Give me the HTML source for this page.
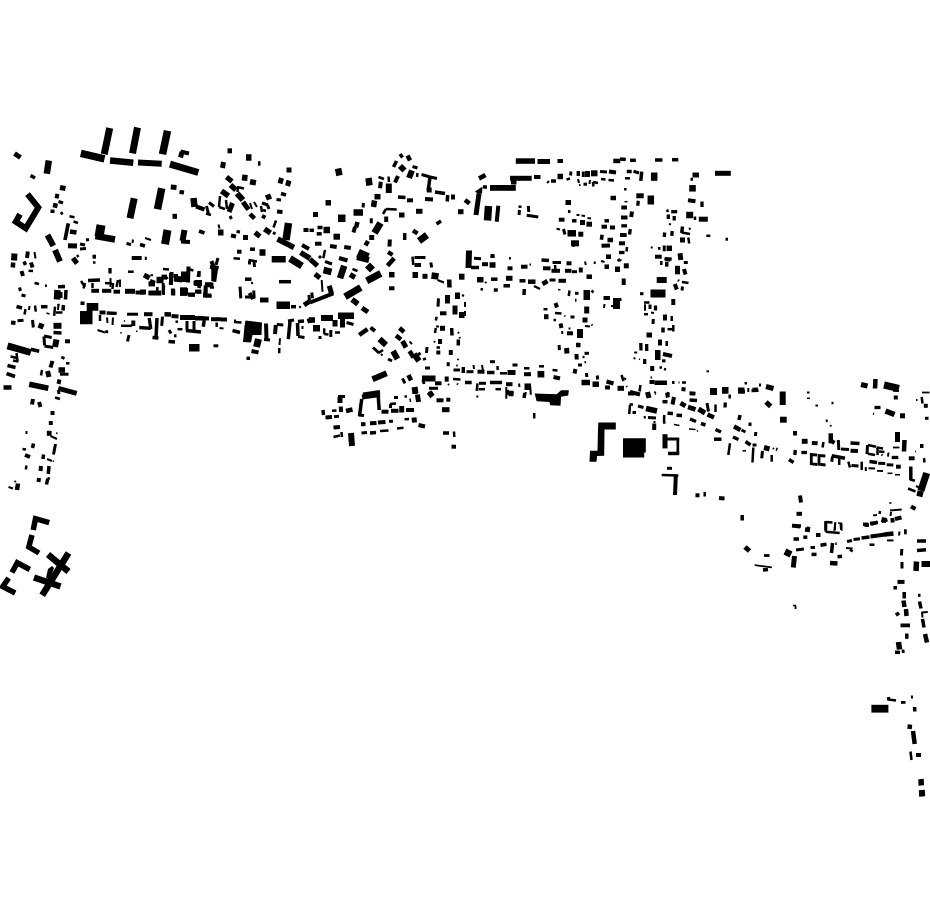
<!DOCTYPE html>
<html><head><meta charset="utf-8"><style>
html,body{margin:0;padding:0;background:#fff;width:930px;height:924px;overflow:hidden;font-family:"Liberation Sans",sans-serif;}
svg{display:block}
</style></head><body>
<svg width="930" height="924" viewBox="0 0 930 924">
<g fill="#000" stroke-linecap="butt">
<line x1="14.5" y1="153.5" x2="20.5" y2="157.5" stroke="#000" stroke-width="5"/>
<line x1="48.8" y1="160.5" x2="46.8" y2="173.7" stroke="#000" stroke-width="6.5"/>
<line x1="30.5" y1="175.5" x2="35" y2="178" stroke="#000" stroke-width="3.5"/>
<line x1="80.8" y1="153.3" x2="104.5" y2="158.8" stroke="#000" stroke-width="7.5"/>
<line x1="109.7" y1="128" x2="104.2" y2="154.2" stroke="#000" stroke-width="7"/>
<line x1="137.5" y1="127.5" x2="132.5" y2="153.3" stroke="#000" stroke-width="7"/>
<line x1="110" y1="160.5" x2="133.3" y2="162.8" stroke="#000" stroke-width="6.5"/>
<line x1="138" y1="162.5" x2="161.7" y2="163.7" stroke="#000" stroke-width="6"/>
<line x1="60" y1="187.5" x2="65.5" y2="188.5" stroke="#000" stroke-width="5"/>
<line x1="55" y1="195.8" x2="59" y2="196.5" stroke="#000" stroke-width="4.5"/>
<line x1="53" y1="205" x2="57.5" y2="206" stroke="#000" stroke-width="4.5"/>
<line x1="58.5" y1="201.5" x2="63" y2="203" stroke="#000" stroke-width="3"/>
<line x1="50.5" y1="211.3" x2="54.5" y2="211.3" stroke="#000" stroke-width="3.5"/>
<line x1="61" y1="212" x2="62.5" y2="214.5" stroke="#000" stroke-width="2.5"/>
<polyline points="27.5,194.2 38.3,207.5 25.8,228.3 15.8,221.7 20,214.2" stroke-width="6" fill="none" stroke="#000" stroke-linejoin="miter"/>
<line x1="69.5" y1="216.3" x2="74.5" y2="217.3" stroke="#000" stroke-width="2.5"/>
<line x1="73.5" y1="221.5" x2="78" y2="223" stroke="#000" stroke-width="2.5"/>
<line x1="68.3" y1="223.3" x2="65" y2="240" stroke="#000" stroke-width="3.7"/>
<line x1="70" y1="231.5" x2="76.5" y2="232.5" stroke="#000" stroke-width="4.5"/>
<line x1="101" y1="225" x2="99" y2="237" stroke="#000" stroke-width="9"/>
<line x1="95.5" y1="236" x2="115" y2="239.5" stroke="#000" stroke-width="6.5"/>
<line x1="134.2" y1="198.3" x2="130" y2="218.3" stroke="#000" stroke-width="7"/>
<line x1="47.5" y1="235" x2="53.3" y2="245.8" stroke="#000" stroke-width="6"/>
<line x1="68" y1="245.8" x2="77" y2="246" stroke="#000" stroke-width="5"/>
<line x1="80" y1="244" x2="85" y2="245" stroke="#000" stroke-width="3"/>
<line x1="80" y1="249" x2="86" y2="248.5" stroke="#000" stroke-width="3"/>
<line x1="86" y1="240" x2="89" y2="239.5" stroke="#000" stroke-width="3"/>
<line x1="126.5" y1="243.5" x2="131" y2="244.5" stroke="#000" stroke-width="3"/>
<line x1="133" y1="239.5" x2="132.5" y2="243" stroke="#000" stroke-width="2"/>
<line x1="140" y1="244.5" x2="145" y2="246" stroke="#000" stroke-width="3.5"/>
<line x1="145" y1="238" x2="151" y2="240" stroke="#000" stroke-width="2"/>
<line x1="167.5" y1="130.8" x2="162.5" y2="154.2" stroke="#000" stroke-width="7.5"/>
<line x1="180.5" y1="151.5" x2="189" y2="153.5" stroke="#000" stroke-width="4"/>
<line x1="182" y1="152" x2="180.5" y2="157.5" stroke="#000" stroke-width="5"/>
<line x1="170" y1="164.2" x2="198.3" y2="172.5" stroke="#000" stroke-width="7"/>
<line x1="170.8" y1="187" x2="176.5" y2="187.5" stroke="#000" stroke-width="5"/>
<line x1="179.5" y1="192" x2="184" y2="192.5" stroke="#000" stroke-width="4"/>
<line x1="161.7" y1="188.3" x2="157.5" y2="209.2" stroke="#000" stroke-width="7.5"/>
<line x1="193.5" y1="198" x2="194.5" y2="207" stroke="#000" stroke-width="6.5"/>
<line x1="196" y1="206.5" x2="204.5" y2="209.5" stroke="#000" stroke-width="4"/>
<line x1="209" y1="202.5" x2="214" y2="206.5" stroke="#000" stroke-width="3"/>
<line x1="206.5" y1="206" x2="208.5" y2="214" stroke="#000" stroke-width="3"/>
<line x1="206" y1="213.5" x2="211" y2="215" stroke="#000" stroke-width="2.5"/>
<line x1="172.5" y1="216.3" x2="177" y2="216.3" stroke="#000" stroke-width="5"/>
<line x1="167.5" y1="230" x2="165" y2="244.2" stroke="#000" stroke-width="8"/>
<line x1="184.5" y1="230" x2="182.5" y2="241" stroke="#000" stroke-width="6"/>
<line x1="181" y1="241.5" x2="190" y2="242" stroke="#000" stroke-width="4"/>
<line x1="199" y1="231" x2="204.5" y2="233" stroke="#000" stroke-width="3.5"/>
<line x1="227.5" y1="150.8" x2="232" y2="150.8" stroke="#000" stroke-width="5"/>
<line x1="246" y1="157.5" x2="251.5" y2="157.5" stroke="#000" stroke-width="6.5"/>
<line x1="258" y1="163.5" x2="260.5" y2="163.5" stroke="#000" stroke-width="4.5"/>
<line x1="223.5" y1="162" x2="222.5" y2="168" stroke="#000" stroke-width="5"/>
<line x1="226.5" y1="177" x2="232" y2="181.5" stroke="#000" stroke-width="5"/>
<line x1="230.5" y1="185" x2="236" y2="190" stroke="#000" stroke-width="5.5"/>
<line x1="237" y1="193.5" x2="243" y2="200" stroke="#000" stroke-width="6"/>
<line x1="243" y1="202" x2="248.5" y2="209.5" stroke="#000" stroke-width="5"/>
<line x1="250" y1="214" x2="254.5" y2="218.5" stroke="#000" stroke-width="4.5"/>
<line x1="242" y1="177.5" x2="247.5" y2="178" stroke="#000" stroke-width="6"/>
<line x1="253.5" y1="179.5" x2="252.5" y2="185" stroke="#000" stroke-width="6"/>
<line x1="237" y1="187" x2="244" y2="188.5" stroke="#000" stroke-width="2.5"/>
<line x1="238" y1="187" x2="237.5" y2="192" stroke="#000" stroke-width="2.5"/>
<line x1="221.5" y1="191" x2="228.5" y2="196" stroke="#000" stroke-width="5.5"/>
<line x1="220" y1="196" x2="219" y2="207" stroke="#000" stroke-width="2.5"/>
<line x1="219" y1="207" x2="225" y2="209" stroke="#000" stroke-width="2.5"/>
<line x1="232.5" y1="203" x2="229" y2="212" stroke="#000" stroke-width="5"/>
<line x1="226" y1="200" x2="227" y2="209" stroke="#000" stroke-width="2.5"/>
<line x1="230" y1="216" x2="231.5" y2="219" stroke="#000" stroke-width="3"/>
<line x1="250" y1="203" x2="252" y2="209" stroke="#000" stroke-width="2"/>
<line x1="254" y1="202" x2="257" y2="207" stroke="#000" stroke-width="2"/>
<line x1="262" y1="203" x2="268" y2="205" stroke="#000" stroke-width="3"/>
<line x1="261" y1="206" x2="262" y2="212" stroke="#000" stroke-width="2.5"/>
<line x1="263" y1="210" x2="266" y2="211" stroke="#000" stroke-width="2.5"/>
<line x1="267.5" y1="205" x2="269" y2="209" stroke="#000" stroke-width="3"/>
<line x1="262" y1="216" x2="265.5" y2="217.5" stroke="#000" stroke-width="4"/>
<line x1="267.5" y1="194.5" x2="269.5" y2="199.5" stroke="#000" stroke-width="5.5"/>
<line x1="286.5" y1="170" x2="291.5" y2="170" stroke="#000" stroke-width="5"/>
<line x1="281.5" y1="178" x2="280" y2="183.5" stroke="#000" stroke-width="5"/>
<line x1="289" y1="180.5" x2="287.5" y2="186" stroke="#000" stroke-width="5"/>
<line x1="281" y1="193.5" x2="286" y2="195" stroke="#000" stroke-width="3.5"/>
<line x1="276.5" y1="199.5" x2="281" y2="200" stroke="#000" stroke-width="3"/>
<line x1="277" y1="211.5" x2="282.5" y2="212" stroke="#000" stroke-width="4"/>
<line x1="288.5" y1="223" x2="286" y2="240" stroke="#000" stroke-width="7.5"/>
<line x1="277.5" y1="239" x2="294" y2="247.5" stroke="#000" stroke-width="5.5"/>
<line x1="276" y1="220.5" x2="273.5" y2="227.5" stroke="#000" stroke-width="2.5"/>
<line x1="273" y1="232.5" x2="275.5" y2="234" stroke="#000" stroke-width="3"/>
<line x1="264.5" y1="229" x2="270.5" y2="233" stroke="#000" stroke-width="5.5"/>
<line x1="255" y1="232.5" x2="260" y2="236.5" stroke="#000" stroke-width="5"/>
<line x1="218" y1="232.5" x2="223.5" y2="232.5" stroke="#000" stroke-width="6"/>
<line x1="218.5" y1="224.5" x2="219.5" y2="228.5" stroke="#000" stroke-width="2"/>
<line x1="231" y1="235.5" x2="236" y2="236.5" stroke="#000" stroke-width="4"/>
<line x1="236.5" y1="231.5" x2="240" y2="232" stroke="#000" stroke-width="3"/>
<line x1="243" y1="237.5" x2="248" y2="237.5" stroke="#000" stroke-width="5"/>
<line x1="303.5" y1="230" x2="308.5" y2="230" stroke="#000" stroke-width="4"/>
<line x1="302" y1="245" x2="309" y2="249" stroke="#000" stroke-width="4"/>
<line x1="300.5" y1="252.5" x2="310" y2="258.3" stroke="#000" stroke-width="5.5"/>
<line x1="237" y1="251.7" x2="241.5" y2="251.7" stroke="#000" stroke-width="4"/>
<line x1="250" y1="249.2" x2="255" y2="249.2" stroke="#000" stroke-width="3.5"/>
<line x1="259.5" y1="252.5" x2="265.5" y2="252.5" stroke="#000" stroke-width="6.5"/>
<rect x="271.7" y="256" width="14" height="6.5"/>
<line x1="338" y1="168.5" x2="339.5" y2="175.5" stroke="#000" stroke-width="6.5"/>
<line x1="400" y1="154" x2="402.5" y2="157.5" stroke="#000" stroke-width="3.5"/>
<line x1="407.5" y1="155.5" x2="410" y2="160.5" stroke="#000" stroke-width="4.5"/>
<line x1="396.5" y1="161" x2="393.5" y2="167" stroke="#000" stroke-width="3.5"/>
<line x1="400" y1="166" x2="404.5" y2="170.5" stroke="#000" stroke-width="6"/>
<line x1="412.5" y1="166.5" x2="417.5" y2="168" stroke="#000" stroke-width="3"/>
<line x1="412" y1="170.5" x2="409" y2="178" stroke="#000" stroke-width="6"/>
<line x1="417.5" y1="173" x2="417" y2="177" stroke="#000" stroke-width="2.5"/>
<line x1="421.5" y1="174.5" x2="428.5" y2="176.5" stroke="#000" stroke-width="3"/>
<line x1="428" y1="176.5" x2="437" y2="178.5" stroke="#000" stroke-width="3"/>
<line x1="430" y1="176.7" x2="428.3" y2="190" stroke="#000" stroke-width="3.5"/>
<line x1="426.7" y1="190" x2="431.7" y2="190" stroke="#000" stroke-width="5"/>
<line x1="435" y1="192" x2="445" y2="193.5" stroke="#000" stroke-width="3.5"/>
<line x1="447.7" y1="195" x2="447.2" y2="201.5" stroke="#000" stroke-width="3.5"/>
<line x1="451" y1="197" x2="455" y2="197" stroke="#000" stroke-width="5"/>
<line x1="425" y1="199" x2="433" y2="199.5" stroke="#000" stroke-width="4"/>
<line x1="398" y1="197" x2="405.5" y2="197.5" stroke="#000" stroke-width="3.5"/>
<line x1="407" y1="200.3" x2="413" y2="200.3" stroke="#000" stroke-width="4"/>
<line x1="416" y1="211.3" x2="422.5" y2="211.3" stroke="#000" stroke-width="5"/>
<line x1="458" y1="211.7" x2="463.5" y2="211.7" stroke="#000" stroke-width="5"/>
<line x1="368.5" y1="178" x2="369.5" y2="185.5" stroke="#000" stroke-width="6.5"/>
<line x1="378.5" y1="177" x2="384" y2="179" stroke="#000" stroke-width="2.5"/>
<line x1="380.8" y1="181.7" x2="380" y2="188.3" stroke="#000" stroke-width="4"/>
<line x1="388.5" y1="176.5" x2="389" y2="182" stroke="#000" stroke-width="2.5"/>
<line x1="388.8" y1="183.5" x2="388.8" y2="193" stroke="#000" stroke-width="6"/>
<line x1="398" y1="176" x2="395" y2="182.5" stroke="#000" stroke-width="4"/>
<line x1="374.5" y1="196.7" x2="380.5" y2="196.7" stroke="#000" stroke-width="5.5"/>
<line x1="374.5" y1="200.5" x2="373.5" y2="207" stroke="#000" stroke-width="5.5"/>
<line x1="325.5" y1="202.8" x2="331" y2="202.8" stroke="#000" stroke-width="5.5"/>
<line x1="363.5" y1="203" x2="363" y2="207.5" stroke="#000" stroke-width="3"/>
<line x1="353.5" y1="212.5" x2="363" y2="212.5" stroke="#000" stroke-width="6.5"/>
<line x1="313" y1="214.5" x2="318" y2="214.5" stroke="#000" stroke-width="5"/>
<line x1="338" y1="218.3" x2="345.5" y2="218.3" stroke="#000" stroke-width="7.5"/>
<line x1="386" y1="209" x2="396.7" y2="209.5" stroke="#000" stroke-width="2.5"/>
<line x1="386" y1="209" x2="383" y2="214" stroke="#000" stroke-width="2.5"/>
<line x1="399" y1="215" x2="404.5" y2="215" stroke="#000" stroke-width="5"/>
<line x1="386.2" y1="216.5" x2="386.2" y2="222" stroke="#000" stroke-width="4"/>
<line x1="371.3" y1="218.3" x2="371.3" y2="223.3" stroke="#000" stroke-width="3"/>
<line x1="357.5" y1="222" x2="356" y2="227.5" stroke="#000" stroke-width="4.5"/>
<line x1="355" y1="227" x2="353.5" y2="232.5" stroke="#000" stroke-width="4"/>
<line x1="380.5" y1="223" x2="374.5" y2="233" stroke="#000" stroke-width="7"/>
<line x1="369.2" y1="237.5" x2="374.2" y2="237.5" stroke="#000" stroke-width="5"/>
<line x1="368" y1="241" x2="365.5" y2="245.5" stroke="#000" stroke-width="4.5"/>
<line x1="358" y1="253" x2="368" y2="257.5" stroke="#000" stroke-width="9"/>
<line x1="404.7" y1="233" x2="404.7" y2="240" stroke="#000" stroke-width="3.5"/>
<line x1="413" y1="230.5" x2="417.5" y2="233.5" stroke="#000" stroke-width="4.5"/>
<line x1="419" y1="241" x2="427" y2="235" stroke="#000" stroke-width="7"/>
<line x1="436.5" y1="224" x2="441" y2="221" stroke="#000" stroke-width="3.5"/>
<line x1="389.8" y1="239.5" x2="389.5" y2="246.5" stroke="#000" stroke-width="4"/>
<line x1="388" y1="252" x2="392.5" y2="255" stroke="#000" stroke-width="4"/>
<line x1="309.5" y1="230.3" x2="314" y2="230.3" stroke="#000" stroke-width="3.5"/>
<line x1="317.5" y1="227.5" x2="322.5" y2="227.5" stroke="#000" stroke-width="3.5"/>
<line x1="316.7" y1="233.8" x2="321.7" y2="233.8" stroke="#000" stroke-width="3.5"/>
<line x1="323.5" y1="230" x2="330" y2="230" stroke="#000" stroke-width="6.5"/>
<line x1="333.5" y1="236.7" x2="340" y2="236.7" stroke="#000" stroke-width="6"/>
<line x1="315" y1="243.7" x2="321.5" y2="243.7" stroke="#000" stroke-width="4"/>
<line x1="330" y1="246" x2="336.7" y2="247" stroke="#000" stroke-width="4"/>
<line x1="344.2" y1="247" x2="350.8" y2="248" stroke="#000" stroke-width="4"/>
<line x1="325" y1="250" x2="323.3" y2="258.3" stroke="#000" stroke-width="2.5"/>
<rect x="515.8" y="158.3" width="19.2" height="5.5"/>
<rect x="537.5" y="159" width="12.5" height="5"/>
<rect x="557.5" y="159" width="5.5" height="4"/>
<rect x="613.3" y="158.7" width="7" height="4.5"/>
<line x1="479" y1="178.5" x2="485.5" y2="175" stroke="#000" stroke-width="4.5"/>
<rect x="510" y="175.8" width="21.7" height="5"/>
<rect x="511" y="180" width="5.5" height="4.5"/>
<rect x="490" y="185" width="25.8" height="5.8"/>
<rect x="534" y="175" width="6.5" height="4"/>
<polygon points="475,191.5 482.5,186.5 482,193.5 478,194"/>
<line x1="479" y1="193.5" x2="476" y2="215" stroke="#000" stroke-width="5"/>
<line x1="465" y1="200" x2="469.5" y2="203.5" stroke="#000" stroke-width="4.5"/>
<line x1="488.5" y1="206" x2="487.5" y2="220.5" stroke="#000" stroke-width="7.5"/>
<line x1="498.3" y1="205.8" x2="496.7" y2="221.7" stroke="#000" stroke-width="4"/>
<line x1="518.5" y1="206.7" x2="521.5" y2="206.7" stroke="#000" stroke-width="2.5"/>
<line x1="519.5" y1="210" x2="519" y2="215" stroke="#000" stroke-width="3"/>
<line x1="528.3" y1="205.8" x2="528.8" y2="212" stroke="#000" stroke-width="3"/>
<line x1="526.7" y1="215.2" x2="538.3" y2="217" stroke="#000" stroke-width="3"/>
<line x1="483" y1="187" x2="487" y2="187" stroke="#000" stroke-width="3.5"/>
<line x1="547" y1="183" x2="549" y2="181" stroke="#000" stroke-width="2"/>
<line x1="551" y1="181" x2="556" y2="181" stroke="#000" stroke-width="3.5"/>
<line x1="557.5" y1="176.5" x2="563" y2="176.5" stroke="#000" stroke-width="5.5"/>
<line x1="566.5" y1="179.5" x2="570" y2="178.5" stroke="#000" stroke-width="2.5"/>
<line x1="571" y1="171.5" x2="570.5" y2="175.5" stroke="#000" stroke-width="3"/>
<line x1="578.3" y1="171" x2="578.3" y2="176" stroke="#000" stroke-width="3.5"/>
<line x1="583.3" y1="171.5" x2="583.3" y2="177" stroke="#000" stroke-width="3"/>
<line x1="587.5" y1="171" x2="587.5" y2="177" stroke="#000" stroke-width="5"/>
<line x1="591" y1="173.3" x2="597.5" y2="173.3" stroke="#000" stroke-width="6"/>
<line x1="600" y1="171.5" x2="607" y2="172" stroke="#000" stroke-width="3"/>
<line x1="609" y1="171.5" x2="616" y2="172.5" stroke="#000" stroke-width="4"/>
<line x1="601" y1="179" x2="605.5" y2="179.5" stroke="#000" stroke-width="2.5"/>
<line x1="608.5" y1="180" x2="614" y2="180.5" stroke="#000" stroke-width="2.5"/>
<line x1="578" y1="179" x2="579" y2="183" stroke="#000" stroke-width="2"/>
<line x1="579.5" y1="184" x2="580" y2="186" stroke="#000" stroke-width="1.5"/>
<line x1="583.5" y1="184.2" x2="587" y2="184.2" stroke="#000" stroke-width="3"/>
<line x1="590" y1="180" x2="589.5" y2="184" stroke="#000" stroke-width="2"/>
<line x1="593" y1="182" x2="598" y2="183" stroke="#000" stroke-width="2.5"/>
<line x1="593" y1="182" x2="593.5" y2="186.5" stroke="#000" stroke-width="2.5"/>
<line x1="610.5" y1="198" x2="616" y2="198" stroke="#000" stroke-width="4.5"/>
<line x1="565.5" y1="202.5" x2="571" y2="202.5" stroke="#000" stroke-width="5"/>
<line x1="569.2" y1="210" x2="569.2" y2="213" stroke="#000" stroke-width="2.5"/>
<line x1="558.8" y1="219.7" x2="564.5" y2="219.7" stroke="#000" stroke-width="4"/>
<line x1="572" y1="220.8" x2="576.5" y2="220.8" stroke="#000" stroke-width="3.5"/>
<line x1="580" y1="222.5" x2="585" y2="222.5" stroke="#000" stroke-width="5"/>
<line x1="586.5" y1="224.2" x2="592" y2="224.2" stroke="#000" stroke-width="5"/>
<line x1="576.5" y1="215" x2="579.5" y2="215" stroke="#000" stroke-width="2"/>
<line x1="581.5" y1="215.5" x2="585" y2="216" stroke="#000" stroke-width="2"/>
<line x1="587.5" y1="218" x2="591" y2="218.5" stroke="#000" stroke-width="2"/>
<line x1="604.5" y1="220.8" x2="609" y2="220.8" stroke="#000" stroke-width="3.5"/>
<line x1="601.5" y1="226.7" x2="607" y2="226.7" stroke="#000" stroke-width="4"/>
<line x1="610" y1="227.5" x2="615" y2="227.5" stroke="#000" stroke-width="4"/>
<line x1="556.5" y1="228.8" x2="560" y2="229.5" stroke="#000" stroke-width="2"/>
<line x1="563.5" y1="229" x2="565" y2="234.5" stroke="#000" stroke-width="3"/>
<line x1="567.5" y1="233.3" x2="576" y2="233.3" stroke="#000" stroke-width="6.5"/>
<line x1="578.3" y1="234.2" x2="583.3" y2="234.2" stroke="#000" stroke-width="5"/>
<line x1="571" y1="243.3" x2="579" y2="243.3" stroke="#000" stroke-width="6"/>
<line x1="573.5" y1="245" x2="573.5" y2="247" stroke="#000" stroke-width="2"/>
<line x1="600" y1="237" x2="603.5" y2="237.5" stroke="#000" stroke-width="5"/>
<line x1="607.5" y1="240" x2="613" y2="240" stroke="#000" stroke-width="4.5"/>
<line x1="601.5" y1="245.8" x2="610" y2="245.5" stroke="#000" stroke-width="4"/>
<line x1="469" y1="250.5" x2="468.5" y2="268" stroke="#000" stroke-width="6"/>
<line x1="490.5" y1="255.8" x2="494.5" y2="255.8" stroke="#000" stroke-width="3.5"/>
<line x1="606" y1="256.7" x2="611" y2="256.7" stroke="#000" stroke-width="4.5"/>
<line x1="620" y1="159" x2="625.8" y2="159.5" stroke="#000" stroke-width="3.5"/>
<line x1="630" y1="160.3" x2="635.8" y2="160.3" stroke="#000" stroke-width="3.5"/>
<line x1="655" y1="160" x2="662.5" y2="160" stroke="#000" stroke-width="3.5"/>
<line x1="672" y1="159.7" x2="678.3" y2="159.7" stroke="#000" stroke-width="3.5"/>
<rect x="715" y="170.8" width="15.8" height="5"/>
<line x1="626.7" y1="171.5" x2="631.7" y2="171.5" stroke="#000" stroke-width="3.5"/>
<line x1="633.5" y1="171.2" x2="639" y2="173" stroke="#000" stroke-width="3"/>
<line x1="641.7" y1="171.7" x2="640.8" y2="180.8" stroke="#000" stroke-width="3.5"/>
<line x1="654.2" y1="172.5" x2="654.2" y2="180.8" stroke="#000" stroke-width="6.5"/>
<line x1="625" y1="178.3" x2="630" y2="178.3" stroke="#000" stroke-width="2.5"/>
<line x1="625.3" y1="188" x2="625.3" y2="190.5" stroke="#000" stroke-width="2.5"/>
<line x1="636.3" y1="195.8" x2="643.7" y2="195.8" stroke="#000" stroke-width="5"/>
<line x1="638.3" y1="200.8" x2="637.7" y2="205.8" stroke="#000" stroke-width="3.3"/>
<line x1="650.8" y1="195.5" x2="650.8" y2="204.5" stroke="#000" stroke-width="6.5"/>
<line x1="624.5" y1="201.7" x2="627.5" y2="201.7" stroke="#000" stroke-width="1.5"/>
<line x1="621.3" y1="207.5" x2="627" y2="207.5" stroke="#000" stroke-width="4"/>
<line x1="632" y1="211.5" x2="631.2" y2="217" stroke="#000" stroke-width="4"/>
<line x1="621" y1="217.5" x2="627.5" y2="217.5" stroke="#000" stroke-width="4"/>
<line x1="621.3" y1="225.8" x2="627" y2="225.8" stroke="#000" stroke-width="3.3"/>
<line x1="630.3" y1="229" x2="629.5" y2="234.5" stroke="#000" stroke-width="3.3"/>
<line x1="620" y1="235" x2="626.7" y2="235" stroke="#000" stroke-width="4"/>
<line x1="619" y1="243.3" x2="625" y2="243.3" stroke="#000" stroke-width="4"/>
<line x1="627" y1="247" x2="626.5" y2="251.5" stroke="#000" stroke-width="2.5"/>
<line x1="619" y1="252.5" x2="624.5" y2="252.5" stroke="#000" stroke-width="3.3"/>
<line x1="692.5" y1="175" x2="699" y2="175" stroke="#000" stroke-width="5"/>
<line x1="690.5" y1="179.2" x2="693" y2="179.2" stroke="#000" stroke-width="3"/>
<line x1="689.2" y1="188.3" x2="695.8" y2="188.3" stroke="#000" stroke-width="6.5"/>
<line x1="688" y1="200.3" x2="695.5" y2="201.3" stroke="#000" stroke-width="4"/>
<line x1="702" y1="201.5" x2="702" y2="207" stroke="#000" stroke-width="3.3"/>
<line x1="686.2" y1="215" x2="693.2" y2="215" stroke="#000" stroke-width="6.5"/>
<line x1="695" y1="216.5" x2="695" y2="220" stroke="#000" stroke-width="2.5"/>
<line x1="698.8" y1="219.2" x2="707.8" y2="219.2" stroke="#000" stroke-width="5"/>
<line x1="667" y1="209.5" x2="668" y2="212" stroke="#000" stroke-width="2.5"/>
<line x1="671.2" y1="211.7" x2="677.2" y2="211.7" stroke="#000" stroke-width="3.3"/>
<line x1="668.3" y1="214.5" x2="668.3" y2="219" stroke="#000" stroke-width="3.3"/>
<line x1="674.2" y1="216" x2="674.2" y2="220.5" stroke="#000" stroke-width="3.3"/>
<line x1="669" y1="224" x2="671" y2="224.5" stroke="#000" stroke-width="2"/>
<line x1="682.5" y1="226.5" x2="681.7" y2="233" stroke="#000" stroke-width="3.5"/>
<line x1="681.7" y1="232.5" x2="690" y2="234" stroke="#000" stroke-width="2.5"/>
<line x1="689" y1="228" x2="690.5" y2="229.5" stroke="#000" stroke-width="2"/>
<line x1="680" y1="240" x2="685" y2="240" stroke="#000" stroke-width="5"/>
<line x1="688.3" y1="237.5" x2="689.2" y2="243.5" stroke="#000" stroke-width="2.5"/>
<line x1="664.7" y1="232.5" x2="664.2" y2="237" stroke="#000" stroke-width="3.3"/>
<line x1="672.2" y1="231" x2="671.8" y2="235.8" stroke="#000" stroke-width="3.3"/>
<line x1="651.7" y1="246.5" x2="651.7" y2="248.5" stroke="#000" stroke-width="2"/>
<line x1="659.2" y1="247" x2="659.2" y2="249.8" stroke="#000" stroke-width="2.5"/>
<line x1="664.2" y1="245.5" x2="664.2" y2="251.3" stroke="#000" stroke-width="3"/>
<line x1="666.5" y1="248.3" x2="672" y2="248.3" stroke="#000" stroke-width="5.5"/>
<line x1="655" y1="256.7" x2="661.7" y2="256.7" stroke="#000" stroke-width="4"/>
<line x1="665" y1="259" x2="671.7" y2="259" stroke="#000" stroke-width="3.3"/>
<line x1="680" y1="253.3" x2="680.8" y2="260" stroke="#000" stroke-width="5"/>
<line x1="706.3" y1="235.8" x2="710.3" y2="235.8" stroke="#000" stroke-width="2.5"/>
<line x1="725.5" y1="239.2" x2="728" y2="239.2" stroke="#000" stroke-width="3"/>
<line x1="55" y1="250" x2="60" y2="261.5" stroke="#000" stroke-width="6"/>
<line x1="14.5" y1="253.5" x2="14" y2="260.5" stroke="#000" stroke-width="6"/>
<line x1="13.2" y1="262.5" x2="12.8" y2="267.5" stroke="#000" stroke-width="4.5"/>
<line x1="27.8" y1="251.5" x2="27" y2="258" stroke="#000" stroke-width="4"/>
<line x1="34.5" y1="252" x2="35.5" y2="258.5" stroke="#000" stroke-width="2"/>
<line x1="24" y1="261.5" x2="25.5" y2="265" stroke="#000" stroke-width="3.5"/>
<line x1="31" y1="262.5" x2="32.5" y2="267.5" stroke="#000" stroke-width="4"/>
<line x1="28.5" y1="270.8" x2="33" y2="271" stroke="#000" stroke-width="2.5"/>
<line x1="21.5" y1="271" x2="23" y2="276" stroke="#000" stroke-width="4"/>
<line x1="73" y1="258" x2="77" y2="263.5" stroke="#000" stroke-width="5"/>
<line x1="77" y1="255" x2="78.5" y2="257" stroke="#000" stroke-width="2.5"/>
<line x1="92.5" y1="256.7" x2="96" y2="256.7" stroke="#000" stroke-width="4"/>
<line x1="93" y1="262.5" x2="95.5" y2="262.5" stroke="#000" stroke-width="2.5"/>
<line x1="131.7" y1="258" x2="141.7" y2="258" stroke="#000" stroke-width="4"/>
<line x1="145.8" y1="256.7" x2="145.8" y2="260" stroke="#000" stroke-width="2"/>
<line x1="110" y1="268" x2="110" y2="273.5" stroke="#000" stroke-width="3.3"/>
<line x1="128" y1="271.7" x2="133.7" y2="271.7" stroke="#000" stroke-width="2.5"/>
<line x1="144" y1="275" x2="149.5" y2="278" stroke="#000" stroke-width="5"/>
<line x1="150" y1="281" x2="155" y2="283" stroke="#000" stroke-width="4.5"/>
<line x1="91.3" y1="290.8" x2="99" y2="290.8" stroke="#000" stroke-width="4"/>
<line x1="102" y1="290.8" x2="111.3" y2="290.8" stroke="#000" stroke-width="4"/>
<line x1="113.5" y1="291.7" x2="120" y2="291.7" stroke="#000" stroke-width="4"/>
<line x1="125" y1="291.3" x2="135" y2="291.3" stroke="#000" stroke-width="5"/>
<line x1="135.5" y1="292.5" x2="144.5" y2="292.5" stroke="#000" stroke-width="4"/>
<line x1="148.5" y1="293" x2="155" y2="293" stroke="#000" stroke-width="4"/>
<line x1="81" y1="281" x2="85" y2="287" stroke="#000" stroke-width="2.5"/>
<line x1="85" y1="283" x2="83.5" y2="288.5" stroke="#000" stroke-width="2.5"/>
<line x1="88" y1="280.5" x2="100" y2="280" stroke="#000" stroke-width="3.5"/>
<line x1="92.5" y1="283" x2="92.5" y2="288" stroke="#000" stroke-width="2.5"/>
<line x1="105" y1="283" x2="112" y2="283.5" stroke="#000" stroke-width="2.5"/>
<line x1="110.5" y1="278" x2="110.5" y2="287" stroke="#000" stroke-width="2"/>
<line x1="113" y1="283" x2="112.5" y2="289" stroke="#000" stroke-width="2.5"/>
<line x1="118" y1="280" x2="116.5" y2="287" stroke="#000" stroke-width="2.5"/>
<line x1="120" y1="279.5" x2="120" y2="287" stroke="#000" stroke-width="2"/>
<line x1="34.5" y1="283" x2="39" y2="284" stroke="#000" stroke-width="2.5"/>
<line x1="45" y1="285.8" x2="47" y2="285.8" stroke="#000" stroke-width="2.5"/>
<line x1="19.5" y1="287.5" x2="20.5" y2="291" stroke="#000" stroke-width="3"/>
<line x1="21.5" y1="295" x2="25.5" y2="296" stroke="#000" stroke-width="3"/>
<line x1="58" y1="286.7" x2="65" y2="286.5" stroke="#000" stroke-width="3.5"/>
<line x1="57.5" y1="290" x2="57" y2="299.5" stroke="#000" stroke-width="6.5"/>
<line x1="61" y1="292" x2="61" y2="298" stroke="#000" stroke-width="3"/>
<line x1="66" y1="290" x2="65.5" y2="299.5" stroke="#000" stroke-width="3.5"/>
<polygon points="86.7,303 98.3,303 98.3,310.8 92.5,310.8 92.5,324.2 80,324.2 80,311 86.7,311"/>
<rect x="80.5" y="301.5" width="4" height="3.5"/>
<line x1="99.5" y1="312.5" x2="105.5" y2="312.5" stroke="#000" stroke-width="4"/>
<line x1="106.7" y1="313" x2="116.7" y2="313.3" stroke="#000" stroke-width="3.3"/>
<line x1="100" y1="315" x2="100" y2="321" stroke="#000" stroke-width="2.5"/>
<line x1="107" y1="317.5" x2="107.5" y2="323" stroke="#000" stroke-width="2"/>
<line x1="113" y1="317.5" x2="112.5" y2="325" stroke="#000" stroke-width="2"/>
<line x1="127" y1="314.2" x2="138" y2="314.2" stroke="#000" stroke-width="3"/>
<line x1="144" y1="314.2" x2="152.5" y2="314.2" stroke="#000" stroke-width="4"/>
<line x1="149.2" y1="318" x2="150.8" y2="329" stroke="#000" stroke-width="3.3"/>
<line x1="139.2" y1="327.5" x2="150.8" y2="328.3" stroke="#000" stroke-width="3.3"/>
<line x1="133.3" y1="320.5" x2="133.3" y2="326" stroke="#000" stroke-width="4"/>
<line x1="121" y1="325.8" x2="132" y2="325.8" stroke="#000" stroke-width="2.5"/>
<line x1="124" y1="320.5" x2="125" y2="321.5" stroke="#000" stroke-width="1.5"/>
<line x1="136.5" y1="330.5" x2="137" y2="332" stroke="#000" stroke-width="1.5"/>
<line x1="97.5" y1="330" x2="105" y2="332.5" stroke="#000" stroke-width="2"/>
<line x1="106.7" y1="330.3" x2="106.7" y2="333.2" stroke="#000" stroke-width="3"/>
<line x1="129" y1="335" x2="127.5" y2="341.5" stroke="#000" stroke-width="3"/>
<line x1="120.8" y1="332" x2="121" y2="333.5" stroke="#000" stroke-width="1.5"/>
<line x1="152.5" y1="337.5" x2="158.5" y2="338" stroke="#000" stroke-width="3.5"/>
<line x1="157" y1="318" x2="156" y2="338" stroke="#000" stroke-width="3.5"/>
<line x1="16.5" y1="306.5" x2="22" y2="308" stroke="#000" stroke-width="3.5"/>
<line x1="25.5" y1="309" x2="24.5" y2="314.5" stroke="#000" stroke-width="2.5"/>
<line x1="29.5" y1="306" x2="29" y2="310" stroke="#000" stroke-width="2"/>
<line x1="35" y1="305.5" x2="35.8" y2="311.7" stroke="#000" stroke-width="2.5"/>
<line x1="41" y1="306.7" x2="47.5" y2="306.7" stroke="#000" stroke-width="3.5"/>
<line x1="46.5" y1="313" x2="49.5" y2="314" stroke="#000" stroke-width="1.5"/>
<line x1="55" y1="306.7" x2="54.2" y2="315.8" stroke="#000" stroke-width="2.5"/>
<line x1="56" y1="312.5" x2="62.5" y2="312.5" stroke="#000" stroke-width="2.5"/>
<line x1="63.5" y1="305" x2="63" y2="310.5" stroke="#000" stroke-width="3.5"/>
<line x1="57.5" y1="305" x2="59.5" y2="304.5" stroke="#000" stroke-width="2"/>
<line x1="58.5" y1="304" x2="58" y2="310" stroke="#000" stroke-width="2"/>
<line x1="11" y1="322.5" x2="15.5" y2="323" stroke="#000" stroke-width="4"/>
<line x1="17.5" y1="320.8" x2="23.5" y2="320.3" stroke="#000" stroke-width="3"/>
<line x1="32.5" y1="320" x2="33.3" y2="327.5" stroke="#000" stroke-width="3"/>
<line x1="38.5" y1="325" x2="43.5" y2="327" stroke="#000" stroke-width="5.5"/>
<line x1="53.5" y1="325.8" x2="61.5" y2="325.8" stroke="#000" stroke-width="6"/>
<line x1="53.5" y1="332.5" x2="61.5" y2="333" stroke="#000" stroke-width="3.5"/>
<line x1="44" y1="336" x2="51.7" y2="337.5" stroke="#000" stroke-width="3"/>
<line x1="44" y1="336.5" x2="44.5" y2="345.5" stroke="#000" stroke-width="3"/>
<line x1="44.5" y1="346" x2="53.3" y2="347.5" stroke="#000" stroke-width="3"/>
<line x1="56.5" y1="339.5" x2="55" y2="347" stroke="#000" stroke-width="6"/>
<line x1="65" y1="341.3" x2="70" y2="341.3" stroke="#000" stroke-width="4"/>
<line x1="7.5" y1="345.8" x2="30.8" y2="352.5" stroke="#000" stroke-width="7"/>
<line x1="30.8" y1="349.2" x2="39.2" y2="351.2" stroke="#000" stroke-width="3.5"/>
<line x1="10.5" y1="356.5" x2="17" y2="358" stroke="#000" stroke-width="2.5"/>
<line x1="16.5" y1="353" x2="17.5" y2="361" stroke="#000" stroke-width="2.5"/>
<line x1="13" y1="360.5" x2="18.5" y2="361.5" stroke="#000" stroke-width="2.5"/>
<line x1="7.5" y1="365.5" x2="15.5" y2="367.5" stroke="#000" stroke-width="3.5"/>
<line x1="6.5" y1="373.5" x2="15" y2="376.5" stroke="#000" stroke-width="3.5"/>
<line x1="3.5" y1="387.5" x2="11.5" y2="387.5" stroke="#000" stroke-width="4.5"/>
<line x1="29.2" y1="384.2" x2="48.3" y2="388.3" stroke="#000" stroke-width="5.5"/>
<line x1="52.5" y1="361" x2="50.5" y2="367.5" stroke="#000" stroke-width="4"/>
<line x1="42" y1="370" x2="41" y2="375.5" stroke="#000" stroke-width="2.5"/>
<line x1="47.5" y1="371" x2="49" y2="377" stroke="#000" stroke-width="5"/>
<line x1="61.3" y1="357" x2="64.5" y2="358.5" stroke="#000" stroke-width="3"/>
<line x1="66" y1="363.3" x2="69.5" y2="363.3" stroke="#000" stroke-width="2.5"/>
<line x1="58.5" y1="370" x2="65" y2="370" stroke="#000" stroke-width="5.5"/>
<line x1="60" y1="374.2" x2="68.5" y2="374.2" stroke="#000" stroke-width="3"/>
<line x1="59.5" y1="379.5" x2="58.5" y2="384" stroke="#000" stroke-width="4"/>
<line x1="58.3" y1="388.3" x2="76.7" y2="393.3" stroke="#000" stroke-width="5"/>
<line x1="290" y1="258.5" x2="302" y2="266" stroke="#000" stroke-width="7"/>
<line x1="233.5" y1="258.3" x2="240" y2="258.8" stroke="#000" stroke-width="2.5"/>
<line x1="248.5" y1="260" x2="257" y2="261.5" stroke="#000" stroke-width="2.5"/>
<line x1="254" y1="261" x2="254.5" y2="267" stroke="#000" stroke-width="3"/>
<line x1="249.5" y1="261" x2="249.5" y2="264.5" stroke="#000" stroke-width="3"/>
<line x1="218" y1="258" x2="216" y2="265" stroke="#000" stroke-width="3"/>
<line x1="211.5" y1="261" x2="213.5" y2="267" stroke="#000" stroke-width="4"/>
<line x1="210" y1="267" x2="218.5" y2="268" stroke="#000" stroke-width="4"/>
<line x1="216.5" y1="266" x2="214.2" y2="281.7" stroke="#000" stroke-width="4"/>
<line x1="163" y1="269" x2="169" y2="269.5" stroke="#000" stroke-width="2.5"/>
<line x1="156.5" y1="280" x2="163.5" y2="280" stroke="#000" stroke-width="6.5"/>
<line x1="157.5" y1="287" x2="156.7" y2="294.5" stroke="#000" stroke-width="2.5"/>
<line x1="155" y1="293.3" x2="161" y2="293.3" stroke="#000" stroke-width="3.5"/>
<line x1="164" y1="285.5" x2="163.5" y2="295" stroke="#000" stroke-width="2.5"/>
<line x1="166.5" y1="277" x2="167.5" y2="279" stroke="#000" stroke-width="2.5"/>
<line x1="171.7" y1="272" x2="170.8" y2="284.5" stroke="#000" stroke-width="4"/>
<line x1="173.5" y1="276" x2="178" y2="276" stroke="#000" stroke-width="4"/>
<line x1="173.3" y1="289.5" x2="173.3" y2="295.5" stroke="#000" stroke-width="4"/>
<line x1="188.5" y1="266.5" x2="188" y2="282.5" stroke="#000" stroke-width="4"/>
<line x1="190" y1="269.5" x2="193.5" y2="270.5" stroke="#000" stroke-width="2.5"/>
<line x1="181" y1="278.5" x2="190" y2="278.5" stroke="#000" stroke-width="7"/>
<line x1="199.2" y1="271" x2="199.2" y2="276.7" stroke="#000" stroke-width="3"/>
<line x1="193.5" y1="283" x2="201.5" y2="283" stroke="#000" stroke-width="4.5"/>
<line x1="197.5" y1="286" x2="201" y2="287" stroke="#000" stroke-width="3"/>
<line x1="180.5" y1="291.7" x2="188" y2="291.7" stroke="#000" stroke-width="7.5"/>
<line x1="188.5" y1="295" x2="195" y2="295" stroke="#000" stroke-width="3.5"/>
<line x1="197" y1="291.7" x2="201.5" y2="291.7" stroke="#000" stroke-width="4"/>
<line x1="205" y1="284.5" x2="213.5" y2="284.5" stroke="#000" stroke-width="3.5"/>
<line x1="205.8" y1="285.5" x2="205" y2="297" stroke="#000" stroke-width="4"/>
<line x1="205" y1="295.5" x2="211.7" y2="296" stroke="#000" stroke-width="3.5"/>
<line x1="210" y1="287.5" x2="214" y2="287.5" stroke="#000" stroke-width="2.5"/>
<line x1="245" y1="279.2" x2="251.5" y2="279.2" stroke="#000" stroke-width="3.5"/>
<line x1="251.5" y1="282" x2="252.5" y2="284" stroke="#000" stroke-width="2"/>
<line x1="240" y1="286.7" x2="240.8" y2="298.3" stroke="#000" stroke-width="3"/>
<line x1="245" y1="297" x2="255" y2="297" stroke="#000" stroke-width="3"/>
<line x1="249.5" y1="293" x2="253" y2="299" stroke="#000" stroke-width="4"/>
<line x1="253.7" y1="290.5" x2="254.2" y2="298.3" stroke="#000" stroke-width="3"/>
<line x1="260" y1="300" x2="268.5" y2="300" stroke="#000" stroke-width="5"/>
<line x1="279" y1="281.7" x2="291" y2="281.7" stroke="#000" stroke-width="3.5"/>
<rect x="276.5" y="301.5" width="13.5" height="7.5"/>
<line x1="291" y1="306.7" x2="296" y2="306.7" stroke="#000" stroke-width="3.5"/>
<line x1="299.5" y1="306" x2="300.5" y2="308" stroke="#000" stroke-width="2"/>
<line x1="304" y1="305" x2="309.5" y2="301.5" stroke="#000" stroke-width="5"/>
<line x1="309" y1="295" x2="309.5" y2="302" stroke="#000" stroke-width="3"/>
<line x1="162.5" y1="316.7" x2="161.7" y2="325.8" stroke="#000" stroke-width="3"/>
<line x1="164.5" y1="314.2" x2="171" y2="314.5" stroke="#000" stroke-width="4.5"/>
<line x1="171.5" y1="316" x2="178.5" y2="316.5" stroke="#000" stroke-width="4"/>
<rect x="180" y="315" width="15" height="5"/>
<rect x="195" y="316" width="8.5" height="4.5"/>
<line x1="203" y1="318.3" x2="209" y2="318.5" stroke="#000" stroke-width="4"/>
<line x1="204.2" y1="320" x2="203.3" y2="326.7" stroke="#000" stroke-width="3.5"/>
<line x1="187" y1="321" x2="187" y2="330.5" stroke="#000" stroke-width="3"/>
<line x1="186" y1="330.5" x2="201" y2="332" stroke="#000" stroke-width="3.5"/>
<line x1="194" y1="321" x2="194" y2="331" stroke="#000" stroke-width="3"/>
<line x1="177.5" y1="329.2" x2="182.5" y2="329.2" stroke="#000" stroke-width="2.5"/>
<line x1="175.5" y1="321.7" x2="178" y2="321.7" stroke="#000" stroke-width="2.5"/>
<line x1="169" y1="330" x2="171" y2="333.5" stroke="#000" stroke-width="3"/>
<line x1="174" y1="335.8" x2="176.5" y2="335.8" stroke="#000" stroke-width="3"/>
<line x1="168.5" y1="341.5" x2="175" y2="342" stroke="#000" stroke-width="3.5"/>
<rect x="189" y="344" width="10.5" height="7.5"/>
<line x1="213.5" y1="345.8" x2="218.3" y2="345.8" stroke="#000" stroke-width="3"/>
<line x1="211" y1="319.2" x2="221" y2="319.2" stroke="#000" stroke-width="4"/>
<line x1="221" y1="319.5" x2="227" y2="319.5" stroke="#000" stroke-width="4"/>
<line x1="216.7" y1="322.5" x2="216.7" y2="327" stroke="#000" stroke-width="2.5"/>
<line x1="219.5" y1="328" x2="223.5" y2="328.5" stroke="#000" stroke-width="2"/>
<line x1="234" y1="322" x2="241.5" y2="322.5" stroke="#000" stroke-width="2.5"/>
<line x1="235" y1="319.5" x2="235" y2="322" stroke="#000" stroke-width="2"/>
<line x1="232.5" y1="330.5" x2="240" y2="332.5" stroke="#000" stroke-width="3.5"/>
<polygon points="245.5,320.5 262,322.5 261.5,335 252.5,335 251,342.5 243,342 244.5,326"/>
<line x1="258.5" y1="339" x2="256.5" y2="347" stroke="#000" stroke-width="7"/>
<line x1="251.5" y1="351" x2="258.5" y2="352.5" stroke="#000" stroke-width="4"/>
<line x1="246.5" y1="358.3" x2="250" y2="358.3" stroke="#000" stroke-width="3.5"/>
<line x1="266" y1="323.5" x2="266.5" y2="339" stroke="#000" stroke-width="4"/>
<line x1="264" y1="339.5" x2="270" y2="340" stroke="#000" stroke-width="3"/>
<line x1="276.7" y1="324.5" x2="283.3" y2="325" stroke="#000" stroke-width="3"/>
<line x1="275.8" y1="325" x2="275" y2="334.2" stroke="#000" stroke-width="4"/>
<line x1="280" y1="338.3" x2="279.5" y2="345" stroke="#000" stroke-width="2"/>
<line x1="279.3" y1="348" x2="279.2" y2="353.3" stroke="#000" stroke-width="2.5"/>
<line x1="290" y1="321.7" x2="288.3" y2="339.2" stroke="#000" stroke-width="3.5"/>
<line x1="288" y1="321" x2="294" y2="320" stroke="#000" stroke-width="3"/>
<line x1="298" y1="321.5" x2="304" y2="321" stroke="#000" stroke-width="3.5"/>
<line x1="297.5" y1="323" x2="298" y2="336" stroke="#000" stroke-width="3.5"/>
<line x1="298" y1="336.5" x2="304.5" y2="337.5" stroke="#000" stroke-width="3"/>
<line x1="302.5" y1="326" x2="302.5" y2="329" stroke="#000" stroke-width="2"/>
<line x1="308.5" y1="318.3" x2="310" y2="323" stroke="#000" stroke-width="4"/>
<line x1="150.5" y1="275.2" x2="153" y2="275.2" stroke="#000" stroke-width="2"/>
<line x1="148.5" y1="283.9" x2="155" y2="283.9" stroke="#000" stroke-width="5"/>
<line x1="161.5" y1="277.1" x2="167" y2="277.1" stroke="#000" stroke-width="5"/>
<line x1="171" y1="273" x2="171" y2="285" stroke="#000" stroke-width="3.8"/>
<line x1="174" y1="278.5" x2="182" y2="279.5" stroke="#000" stroke-width="6"/>
<line x1="181" y1="276" x2="190" y2="276" stroke="#000" stroke-width="9"/>
<line x1="199" y1="271.3" x2="198" y2="277" stroke="#000" stroke-width="3"/>
<line x1="194.5" y1="283" x2="202" y2="283" stroke="#000" stroke-width="6"/>
<line x1="205" y1="284.8" x2="212.5" y2="284.8" stroke="#000" stroke-width="5"/>
<line x1="205.8" y1="288.7" x2="205.8" y2="296.5" stroke="#000" stroke-width="3.5"/>
<line x1="140" y1="292" x2="146" y2="292" stroke="#000" stroke-width="5"/>
<line x1="148.7" y1="293" x2="161.3" y2="293" stroke="#000" stroke-width="5"/>
<line x1="163.2" y1="283" x2="163.2" y2="294.5" stroke="#000" stroke-width="3"/>
<line x1="172.9" y1="288.5" x2="172.9" y2="295" stroke="#000" stroke-width="4"/>
<line x1="180" y1="291.6" x2="187" y2="291.6" stroke="#000" stroke-width="8.5"/>
<line x1="188" y1="294.5" x2="195" y2="294.5" stroke="#000" stroke-width="4"/>
<line x1="195" y1="291.6" x2="201" y2="291.6" stroke="#000" stroke-width="4"/>
<line x1="203" y1="295.5" x2="211" y2="295.5" stroke="#000" stroke-width="4"/>
<line x1="213.5" y1="265.5" x2="213.5" y2="281" stroke="#000" stroke-width="4.5"/>
<line x1="310" y1="259.2" x2="317.5" y2="265.8" stroke="#000" stroke-width="5"/>
<line x1="319" y1="256" x2="321" y2="258" stroke="#000" stroke-width="3"/>
<line x1="325" y1="261.5" x2="332" y2="264" stroke="#000" stroke-width="3"/>
<line x1="323.5" y1="270" x2="331.5" y2="272" stroke="#000" stroke-width="6.5"/>
<line x1="315" y1="274" x2="320" y2="278" stroke="#000" stroke-width="5"/>
<line x1="344.2" y1="265.8" x2="340" y2="278.3" stroke="#000" stroke-width="6.5"/>
<line x1="339" y1="258" x2="347.5" y2="260.5" stroke="#000" stroke-width="4"/>
<line x1="352.5" y1="269" x2="357.5" y2="271" stroke="#000" stroke-width="2.5"/>
<line x1="350" y1="274.5" x2="355" y2="277.5" stroke="#000" stroke-width="5"/>
<line x1="357" y1="257" x2="369" y2="260" stroke="#000" stroke-width="6"/>
<line x1="367.5" y1="265" x2="372.5" y2="270" stroke="#000" stroke-width="7"/>
<line x1="366.7" y1="280.8" x2="380.8" y2="273.3" stroke="#000" stroke-width="7"/>
<line x1="387.5" y1="265.8" x2="394.2" y2="258.3" stroke="#000" stroke-width="4.5"/>
<line x1="389" y1="274.7" x2="394.5" y2="274.7" stroke="#000" stroke-width="5.5"/>
<line x1="389" y1="288.3" x2="394.5" y2="288.3" stroke="#000" stroke-width="4"/>
<line x1="345" y1="296.7" x2="360.8" y2="287.5" stroke="#000" stroke-width="7"/>
<line x1="352" y1="299.5" x2="358" y2="304" stroke="#000" stroke-width="5.5"/>
<line x1="362" y1="308" x2="368" y2="312" stroke="#000" stroke-width="5"/>
<line x1="310" y1="302.5" x2="333.3" y2="293.3" stroke="#000" stroke-width="4"/>
<line x1="329.2" y1="285.8" x2="331.7" y2="294.2" stroke="#000" stroke-width="5"/>
<line x1="321.7" y1="280" x2="322.5" y2="291.7" stroke="#000" stroke-width="2"/>
<line x1="311.7" y1="292.5" x2="312.5" y2="298.3" stroke="#000" stroke-width="3"/>
<line x1="309" y1="320" x2="315" y2="320" stroke="#000" stroke-width="5.5"/>
<rect x="321" y="315" width="12" height="6"/>
<rect x="338" y="312.5" width="16" height="6.5"/>
<line x1="335" y1="320" x2="335" y2="326.5" stroke="#000" stroke-width="5"/>
<line x1="342.5" y1="319" x2="342.5" y2="327.5" stroke="#000" stroke-width="5"/>
<line x1="346.5" y1="322.5" x2="353.5" y2="324.5" stroke="#000" stroke-width="3"/>
<rect x="313" y="325" width="7" height="6.5"/>
<line x1="324.2" y1="328.3" x2="324.2" y2="334.2" stroke="#000" stroke-width="2.5"/>
<line x1="324.2" y1="334" x2="328.5" y2="334.5" stroke="#000" stroke-width="2.5"/>
<line x1="330.8" y1="330" x2="330.8" y2="337" stroke="#000" stroke-width="3"/>
<line x1="335" y1="332.5" x2="340" y2="332.5" stroke="#000" stroke-width="2.5"/>
<line x1="320" y1="336" x2="320" y2="339" stroke="#000" stroke-width="3"/>
<line x1="359.2" y1="335" x2="367.5" y2="329.2" stroke="#000" stroke-width="4.5"/>
<line x1="370.5" y1="327.5" x2="375" y2="331" stroke="#000" stroke-width="4"/>
<line x1="379.5" y1="339" x2="386" y2="345" stroke="#000" stroke-width="6"/>
<line x1="373" y1="347.5" x2="379" y2="353" stroke="#000" stroke-width="3"/>
<line x1="378.5" y1="353" x2="383" y2="350" stroke="#000" stroke-width="2.5"/>
<line x1="381" y1="354" x2="382.5" y2="355.5" stroke="#000" stroke-width="2"/>
<line x1="388" y1="359" x2="392" y2="361" stroke="#000" stroke-width="3"/>
<line x1="393" y1="351" x2="397.5" y2="359" stroke="#000" stroke-width="6"/>
<line x1="399.5" y1="328" x2="404" y2="332" stroke="#000" stroke-width="4.5"/>
<line x1="396" y1="335.5" x2="401" y2="339.5" stroke="#000" stroke-width="4.5"/>
<line x1="402.5" y1="341" x2="406" y2="347.5" stroke="#000" stroke-width="5"/>
<line x1="409.5" y1="341.5" x2="412" y2="344" stroke="#000" stroke-width="2"/>
<line x1="409.5" y1="351" x2="413.5" y2="357.5" stroke="#000" stroke-width="4.5"/>
<line x1="414" y1="354" x2="419" y2="361" stroke="#000" stroke-width="6"/>
<line x1="416.5" y1="356" x2="420.5" y2="353" stroke="#000" stroke-width="3"/>
<line x1="423" y1="359.5" x2="426" y2="358.5" stroke="#000" stroke-width="2.5"/>
<line x1="427" y1="347" x2="426.5" y2="353" stroke="#000" stroke-width="3"/>
<line x1="425" y1="368" x2="430" y2="368" stroke="#000" stroke-width="3"/>
<line x1="412.5" y1="256.7" x2="413.3" y2="265" stroke="#000" stroke-width="2.5"/>
<line x1="414.5" y1="257.5" x2="425.5" y2="257.5" stroke="#000" stroke-width="3"/>
<line x1="414.5" y1="265" x2="421" y2="265" stroke="#000" stroke-width="4"/>
<line x1="430.8" y1="262.5" x2="431.7" y2="267.5" stroke="#000" stroke-width="3"/>
<line x1="412.5" y1="275" x2="418" y2="275" stroke="#000" stroke-width="6"/>
<line x1="422.5" y1="276.3" x2="427.5" y2="276.3" stroke="#000" stroke-width="5"/>
<line x1="431.5" y1="275.5" x2="438.5" y2="276.5" stroke="#000" stroke-width="6.5"/>
<line x1="437.5" y1="280" x2="444" y2="282.5" stroke="#000" stroke-width="2"/>
<line x1="449.2" y1="279.5" x2="449.5" y2="287.5" stroke="#000" stroke-width="4.5"/>
<line x1="459" y1="276.7" x2="464.5" y2="276.7" stroke="#000" stroke-width="6"/>
<line x1="438.5" y1="298.3" x2="438" y2="306.7" stroke="#000" stroke-width="3"/>
<line x1="447.5" y1="295" x2="447.5" y2="303.5" stroke="#000" stroke-width="5"/>
<line x1="457.5" y1="292.5" x2="457.5" y2="299" stroke="#000" stroke-width="5"/>
<line x1="462" y1="295" x2="464" y2="296" stroke="#000" stroke-width="2"/>
<line x1="455" y1="305.5" x2="455" y2="314.5" stroke="#000" stroke-width="5"/>
<line x1="459" y1="315" x2="464.5" y2="315" stroke="#000" stroke-width="6"/>
<line x1="440" y1="313.3" x2="446.5" y2="313.3" stroke="#000" stroke-width="4"/>
<line x1="436.7" y1="316.7" x2="435.8" y2="320.5" stroke="#000" stroke-width="2.5"/>
<line x1="440" y1="328.3" x2="445" y2="328.3" stroke="#000" stroke-width="5"/>
<line x1="435.8" y1="328" x2="435" y2="333" stroke="#000" stroke-width="2.5"/>
<line x1="436" y1="326.5" x2="439" y2="326.5" stroke="#000" stroke-width="2"/>
<line x1="451.7" y1="328" x2="452" y2="335.5" stroke="#000" stroke-width="3.5"/>
<line x1="458" y1="332" x2="459" y2="333.5" stroke="#000" stroke-width="2"/>
<line x1="459.5" y1="337" x2="460" y2="338.5" stroke="#000" stroke-width="2"/>
<line x1="458.3" y1="339.5" x2="458.3" y2="345.5" stroke="#000" stroke-width="3.5"/>
<line x1="434" y1="341" x2="435" y2="342.5" stroke="#000" stroke-width="2"/>
<line x1="440" y1="339" x2="440" y2="344" stroke="#000" stroke-width="4"/>
<line x1="436.5" y1="347.5" x2="440" y2="347.5" stroke="#000" stroke-width="2.5"/>
<line x1="438.3" y1="350.5" x2="438.3" y2="354.5" stroke="#000" stroke-width="4"/>
<line x1="450.8" y1="350" x2="450.8" y2="355" stroke="#000" stroke-width="4"/>
<line x1="446.7" y1="364.2" x2="449.7" y2="364.2" stroke="#000" stroke-width="4"/>
<line x1="457" y1="364.5" x2="457" y2="366.5" stroke="#000" stroke-width="1.5"/>
<line x1="457" y1="359.5" x2="459" y2="359.5" stroke="#000" stroke-width="1.5"/>
<line x1="453.5" y1="370" x2="460" y2="370" stroke="#000" stroke-width="3"/>
<line x1="463.3" y1="367" x2="463.3" y2="373" stroke="#000" stroke-width="3.5"/>
<line x1="372.5" y1="379.2" x2="386.7" y2="373.3" stroke="#000" stroke-width="6"/>
<line x1="402.5" y1="378.3" x2="405" y2="383.3" stroke="#000" stroke-width="3"/>
<line x1="408.5" y1="375" x2="411" y2="380.5" stroke="#000" stroke-width="4.5"/>
<line x1="414.5" y1="387" x2="415.5" y2="393.5" stroke="#000" stroke-width="6"/>
<rect x="422" y="375.5" width="13.5" height="6"/>
<line x1="423" y1="380" x2="424" y2="384" stroke="#000" stroke-width="3"/>
<line x1="435" y1="383.3" x2="441.5" y2="383.3" stroke="#000" stroke-width="4"/>
<line x1="429" y1="388.3" x2="438" y2="388.3" stroke="#000" stroke-width="3"/>
<line x1="446.7" y1="376.5" x2="446.7" y2="381.7" stroke="#000" stroke-width="4"/>
<line x1="448" y1="384" x2="449" y2="385" stroke="#000" stroke-width="2"/>
<line x1="453" y1="379" x2="460.5" y2="379.5" stroke="#000" stroke-width="2.5"/>
<line x1="457" y1="383.5" x2="458" y2="384.5" stroke="#000" stroke-width="2"/>
<line x1="363" y1="394.5" x2="380" y2="392" stroke="#000" stroke-width="4"/>
<line x1="428" y1="393.3" x2="432.5" y2="393.3" stroke="#000" stroke-width="3"/>
<line x1="474" y1="258.3" x2="481" y2="258.8" stroke="#000" stroke-width="3"/>
<line x1="471" y1="267.5" x2="479" y2="267.5" stroke="#000" stroke-width="3.5"/>
<line x1="482" y1="264.2" x2="488" y2="264.2" stroke="#000" stroke-width="4"/>
<line x1="489.5" y1="265" x2="495.5" y2="265" stroke="#000" stroke-width="5.5"/>
<line x1="490.5" y1="256.7" x2="494.5" y2="256.7" stroke="#000" stroke-width="2.5"/>
<line x1="509" y1="258.3" x2="511" y2="258.3" stroke="#000" stroke-width="2.5"/>
<line x1="507.5" y1="268.3" x2="512.5" y2="268.3" stroke="#000" stroke-width="4"/>
<line x1="521" y1="266.7" x2="527.5" y2="266.7" stroke="#000" stroke-width="4"/>
<line x1="529.5" y1="264.5" x2="531" y2="264.5" stroke="#000" stroke-width="2"/>
<line x1="541.5" y1="260" x2="549" y2="260.5" stroke="#000" stroke-width="3.5"/>
<line x1="543" y1="268.3" x2="550.5" y2="268.3" stroke="#000" stroke-width="4"/>
<line x1="552.5" y1="262.5" x2="561" y2="262.5" stroke="#000" stroke-width="3"/>
<line x1="555" y1="265" x2="555.5" y2="270" stroke="#000" stroke-width="2.5"/>
<line x1="551.5" y1="270.8" x2="560" y2="270.8" stroke="#000" stroke-width="4"/>
<line x1="566.5" y1="263.3" x2="571.5" y2="263.3" stroke="#000" stroke-width="4"/>
<line x1="565" y1="270.8" x2="571.5" y2="270.8" stroke="#000" stroke-width="4"/>
<line x1="572" y1="271.7" x2="577" y2="271.7" stroke="#000" stroke-width="3"/>
<line x1="580.8" y1="267.5" x2="580.8" y2="272.5" stroke="#000" stroke-width="4"/>
<line x1="585" y1="261.5" x2="585.8" y2="265" stroke="#000" stroke-width="2"/>
<line x1="595" y1="261.5" x2="594.5" y2="264" stroke="#000" stroke-width="2"/>
<line x1="601" y1="261" x2="604.5" y2="262" stroke="#000" stroke-width="2"/>
<line x1="604.5" y1="266.7" x2="609" y2="266.7" stroke="#000" stroke-width="4.5"/>
<line x1="606" y1="256.7" x2="611" y2="256.7" stroke="#000" stroke-width="3.5"/>
<line x1="617.5" y1="266.5" x2="617.5" y2="272" stroke="#000" stroke-width="5"/>
<line x1="618" y1="259" x2="619.5" y2="261" stroke="#000" stroke-width="3"/>
<line x1="586.5" y1="276.7" x2="592" y2="276.7" stroke="#000" stroke-width="4.5"/>
<line x1="477" y1="279.7" x2="483.5" y2="279.7" stroke="#000" stroke-width="5.5"/>
<line x1="485" y1="282" x2="486.5" y2="283" stroke="#000" stroke-width="2"/>
<line x1="491" y1="279.2" x2="497.5" y2="279.2" stroke="#000" stroke-width="3.5"/>
<line x1="506" y1="278.3" x2="512.5" y2="278.3" stroke="#000" stroke-width="5"/>
<line x1="503.5" y1="285.8" x2="510" y2="285.8" stroke="#000" stroke-width="3.5"/>
<line x1="482" y1="288" x2="481.5" y2="290.5" stroke="#000" stroke-width="2.5"/>
<line x1="493.8" y1="290" x2="497.8" y2="290" stroke="#000" stroke-width="3.5"/>
<line x1="519.5" y1="280.8" x2="525.5" y2="280.8" stroke="#000" stroke-width="3.5"/>
<line x1="528" y1="281.7" x2="535.5" y2="281.7" stroke="#000" stroke-width="4.5"/>
<line x1="534" y1="286" x2="540" y2="289" stroke="#000" stroke-width="2.5"/>
<line x1="524.3" y1="289" x2="524" y2="295" stroke="#000" stroke-width="3.5"/>
<line x1="542.5" y1="284" x2="547.5" y2="281" stroke="#000" stroke-width="4.5"/>
<line x1="549.5" y1="280" x2="555.5" y2="280" stroke="#000" stroke-width="3"/>
<line x1="558.5" y1="280.8" x2="566" y2="280.8" stroke="#000" stroke-width="4"/>
<line x1="558" y1="289.7" x2="560.5" y2="289.7" stroke="#000" stroke-width="1.5"/>
<line x1="569.5" y1="290.5" x2="568.8" y2="296" stroke="#000" stroke-width="2.5"/>
<line x1="575" y1="293.3" x2="578.5" y2="293.3" stroke="#000" stroke-width="3"/>
<line x1="575" y1="300.3" x2="576.5" y2="300.3" stroke="#000" stroke-width="3"/>
<rect x="583.5" y="290" width="6.5" height="10"/>
<line x1="591.5" y1="290.5" x2="593.5" y2="292.5" stroke="#000" stroke-width="2.5"/>
<line x1="603.5" y1="298" x2="610" y2="298" stroke="#000" stroke-width="4"/>
<line x1="604.5" y1="304" x2="604" y2="308" stroke="#000" stroke-width="2"/>
<rect x="613" y="298" width="7" height="11"/>
<line x1="612" y1="305" x2="612" y2="307" stroke="#000" stroke-width="2"/>
<line x1="465" y1="302" x2="465" y2="307" stroke="#000" stroke-width="2"/>
<line x1="465" y1="311" x2="465" y2="316" stroke="#000" stroke-width="2"/>
<line x1="555.5" y1="303" x2="557" y2="307.5" stroke="#000" stroke-width="4"/>
<line x1="543.5" y1="309.2" x2="547.5" y2="309.2" stroke="#000" stroke-width="2.5"/>
<line x1="544" y1="316.7" x2="548.5" y2="316.7" stroke="#000" stroke-width="5"/>
<line x1="555" y1="313" x2="561.5" y2="313.5" stroke="#000" stroke-width="2.5"/>
<line x1="564.5" y1="315.5" x2="565" y2="316.5" stroke="#000" stroke-width="2"/>
<line x1="570.5" y1="317" x2="574.5" y2="317" stroke="#000" stroke-width="3"/>
<line x1="553.5" y1="320" x2="556" y2="320" stroke="#000" stroke-width="2.5"/>
<line x1="586.7" y1="306.5" x2="586.7" y2="313.5" stroke="#000" stroke-width="5"/>
<line x1="582.5" y1="320" x2="587.5" y2="320" stroke="#000" stroke-width="5"/>
<line x1="585" y1="326" x2="590" y2="326.5" stroke="#000" stroke-width="2"/>
<line x1="591.5" y1="324.5" x2="592.5" y2="325.5" stroke="#000" stroke-width="2"/>
<line x1="560.5" y1="323.5" x2="561.5" y2="328" stroke="#000" stroke-width="4"/>
<line x1="562" y1="331" x2="562.5" y2="334" stroke="#000" stroke-width="2"/>
<line x1="567" y1="333.3" x2="573" y2="333.3" stroke="#000" stroke-width="4"/>
<line x1="568.5" y1="328.5" x2="570.5" y2="328.5" stroke="#000" stroke-width="2"/>
<rect x="577" y="329" width="6" height="9"/>
<line x1="576" y1="345" x2="580.5" y2="345" stroke="#000" stroke-width="4.5"/>
<line x1="559" y1="345" x2="559.5" y2="350" stroke="#000" stroke-width="3"/>
<line x1="566.5" y1="348" x2="567" y2="353.5" stroke="#000" stroke-width="5"/>
<line x1="576.5" y1="354" x2="576.7" y2="359.5" stroke="#000" stroke-width="4"/>
<line x1="582.5" y1="356.5" x2="584.5" y2="357.5" stroke="#000" stroke-width="2"/>
<line x1="584.5" y1="353.3" x2="589" y2="353.3" stroke="#000" stroke-width="3"/>
<line x1="578" y1="365" x2="582" y2="365" stroke="#000" stroke-width="3"/>
<line x1="584.5" y1="362.5" x2="586" y2="362" stroke="#000" stroke-width="2"/>
<line x1="575.5" y1="369" x2="574.5" y2="373.5" stroke="#000" stroke-width="4"/>
<line x1="586.5" y1="373" x2="586.8" y2="377" stroke="#000" stroke-width="3"/>
<line x1="597.3" y1="375.5" x2="597.7" y2="379.5" stroke="#000" stroke-width="3"/>
<line x1="581.5" y1="382.5" x2="590" y2="382.5" stroke="#000" stroke-width="5.5"/>
<line x1="592.5" y1="384.2" x2="599" y2="384.2" stroke="#000" stroke-width="5.5"/>
<line x1="606.5" y1="381.5" x2="613.5" y2="383.5" stroke="#000" stroke-width="4"/>
<line x1="605" y1="387.5" x2="610" y2="387.5" stroke="#000" stroke-width="4"/>
<line x1="473.5" y1="365" x2="474" y2="369" stroke="#000" stroke-width="2"/>
<line x1="466.5" y1="371.7" x2="473.5" y2="371.7" stroke="#000" stroke-width="3"/>
<line x1="482" y1="365" x2="483" y2="371" stroke="#000" stroke-width="2"/>
<line x1="477.5" y1="371.7" x2="484.5" y2="371.7" stroke="#000" stroke-width="4"/>
<line x1="490" y1="361.7" x2="495" y2="361.7" stroke="#000" stroke-width="3"/>
<line x1="497.5" y1="366" x2="497.7" y2="370" stroke="#000" stroke-width="2.5"/>
<line x1="487" y1="372.5" x2="494.5" y2="372.5" stroke="#000" stroke-width="3.5"/>
<line x1="500" y1="373.3" x2="507" y2="373.3" stroke="#000" stroke-width="2.5"/>
<line x1="507.5" y1="372.5" x2="515.5" y2="372.5" stroke="#000" stroke-width="5"/>
<line x1="512.5" y1="365" x2="517.5" y2="365" stroke="#000" stroke-width="3"/>
<line x1="524" y1="368.3" x2="529.5" y2="368.3" stroke="#000" stroke-width="2.5"/>
<line x1="524" y1="374.2" x2="531" y2="374.2" stroke="#000" stroke-width="4"/>
<line x1="537.5" y1="374.2" x2="544.3" y2="374.2" stroke="#000" stroke-width="6.5"/>
<line x1="539" y1="366.3" x2="544" y2="366.3" stroke="#000" stroke-width="2.5"/>
<line x1="552.5" y1="370" x2="557.5" y2="370.5" stroke="#000" stroke-width="2.5"/>
<line x1="553.5" y1="377" x2="560" y2="378.5" stroke="#000" stroke-width="4"/>
<line x1="465" y1="382.5" x2="471.7" y2="382.5" stroke="#000" stroke-width="3.5"/>
<line x1="477.5" y1="383.3" x2="476.7" y2="390.8" stroke="#000" stroke-width="2.5"/>
<line x1="479" y1="383.3" x2="486" y2="383.3" stroke="#000" stroke-width="3"/>
<line x1="478.5" y1="389.2" x2="485" y2="389.2" stroke="#000" stroke-width="2.5"/>
<line x1="490" y1="382.5" x2="502" y2="382.5" stroke="#000" stroke-width="3.5"/>
<line x1="495.5" y1="389.2" x2="501" y2="389.2" stroke="#000" stroke-width="2.5"/>
<line x1="506" y1="384.2" x2="512.5" y2="384.2" stroke="#000" stroke-width="4"/>
<line x1="507.5" y1="390" x2="508" y2="395" stroke="#000" stroke-width="3"/>
<line x1="508" y1="392" x2="513.5" y2="393" stroke="#000" stroke-width="2.5"/>
<line x1="519" y1="383.5" x2="519.5" y2="387" stroke="#000" stroke-width="2"/>
<line x1="524.5" y1="386.7" x2="531" y2="386.7" stroke="#000" stroke-width="6.5"/>
<line x1="524.5" y1="393" x2="526.5" y2="393" stroke="#000" stroke-width="2"/>
<line x1="620" y1="260" x2="621" y2="261" stroke="#000" stroke-width="3"/>
<line x1="623.8" y1="265.8" x2="628.8" y2="265.8" stroke="#000" stroke-width="5"/>
<line x1="623.7" y1="278.5" x2="623.7" y2="285" stroke="#000" stroke-width="4"/>
<line x1="620" y1="298" x2="620.5" y2="301" stroke="#000" stroke-width="2.5"/>
<line x1="664.5" y1="258.5" x2="670.5" y2="260" stroke="#000" stroke-width="3.5"/>
<line x1="665" y1="264.2" x2="668.5" y2="264.2" stroke="#000" stroke-width="5"/>
<line x1="661.3" y1="261" x2="661.3" y2="265" stroke="#000" stroke-width="2.5"/>
<line x1="683.8" y1="262.5" x2="687.8" y2="262.5" stroke="#000" stroke-width="3"/>
<rect x="675" y="265.8" width="5" height="8.5"/>
<line x1="684" y1="269" x2="685.5" y2="274.5" stroke="#000" stroke-width="4"/>
<rect x="656.7" y="277" width="10" height="6"/>
<line x1="678" y1="280" x2="679" y2="281" stroke="#000" stroke-width="2.5"/>
<line x1="682" y1="282" x2="688.5" y2="283" stroke="#000" stroke-width="2.5"/>
<line x1="674.8" y1="284" x2="676.8" y2="289.5" stroke="#000" stroke-width="4"/>
<line x1="682.5" y1="286.5" x2="682" y2="290.5" stroke="#000" stroke-width="3"/>
<line x1="640" y1="293.7" x2="643.5" y2="293.7" stroke="#000" stroke-width="3"/>
<rect x="650.5" y="289.5" width="15" height="8"/>
<line x1="673.3" y1="299" x2="673.3" y2="305" stroke="#000" stroke-width="4"/>
<line x1="644" y1="302.5" x2="649.5" y2="302.5" stroke="#000" stroke-width="2.5"/>
<line x1="645" y1="304.2" x2="645" y2="310.8" stroke="#000" stroke-width="2"/>
<line x1="650" y1="304.5" x2="650" y2="309" stroke="#000" stroke-width="3"/>
<line x1="655.5" y1="305.5" x2="655.5" y2="310.5" stroke="#000" stroke-width="3.3"/>
<line x1="644" y1="314.2" x2="648" y2="314.2" stroke="#000" stroke-width="2.5"/>
<line x1="651" y1="312.5" x2="654" y2="313" stroke="#000" stroke-width="2"/>
<line x1="665" y1="314.5" x2="665" y2="320.5" stroke="#000" stroke-width="4"/>
<line x1="671.7" y1="316" x2="671.7" y2="321" stroke="#000" stroke-width="2.5"/>
<line x1="653.3" y1="319" x2="653" y2="324" stroke="#000" stroke-width="3"/>
<line x1="663" y1="327.5" x2="663" y2="332.5" stroke="#000" stroke-width="3.5"/>
<line x1="667.5" y1="329.2" x2="672.5" y2="329.2" stroke="#000" stroke-width="2.5"/>
<line x1="673.3" y1="325" x2="673.3" y2="331.5" stroke="#000" stroke-width="2.5"/>
<line x1="646.5" y1="335" x2="652" y2="335" stroke="#000" stroke-width="5"/>
<line x1="660" y1="339.5" x2="660" y2="345.5" stroke="#000" stroke-width="4"/>
<line x1="666.7" y1="341" x2="666.7" y2="346" stroke="#000" stroke-width="2.5"/>
<line x1="640.8" y1="343" x2="641" y2="350.5" stroke="#000" stroke-width="3.3"/>
<line x1="646.7" y1="344" x2="646.7" y2="351" stroke="#000" stroke-width="3.3"/>
<line x1="634.2" y1="352.5" x2="637.2" y2="352.5" stroke="#000" stroke-width="2"/>
<line x1="633.5" y1="358.3" x2="635.5" y2="358.3" stroke="#000" stroke-width="2"/>
<line x1="639" y1="359" x2="640" y2="359.5" stroke="#000" stroke-width="1.5"/>
<line x1="644.7" y1="359" x2="644.7" y2="364" stroke="#000" stroke-width="3.3"/>
<rect x="655" y="350" width="5.5" height="10"/>
<line x1="663" y1="354" x2="672" y2="356" stroke="#000" stroke-width="4"/>
<line x1="662" y1="360.8" x2="665.5" y2="360.8" stroke="#000" stroke-width="3"/>
<line x1="652.2" y1="366" x2="652.2" y2="371" stroke="#000" stroke-width="4"/>
<line x1="659.5" y1="367.5" x2="662" y2="367.5" stroke="#000" stroke-width="2.5"/>
<line x1="664" y1="369" x2="666" y2="369.5" stroke="#000" stroke-width="2.5"/>
<line x1="706.5" y1="371.3" x2="709" y2="371.3" stroke="#000" stroke-width="2"/>
<line x1="621.5" y1="375" x2="623.5" y2="381" stroke="#000" stroke-width="2.5"/>
<line x1="624" y1="378" x2="626" y2="379.5" stroke="#000" stroke-width="2"/>
<line x1="650.5" y1="377.5" x2="652" y2="377.5" stroke="#000" stroke-width="2"/>
<line x1="649.5" y1="382" x2="654.5" y2="382" stroke="#000" stroke-width="4"/>
<rect x="654.5" y="380.5" width="12.5" height="4.5"/>
<line x1="673.3" y1="381" x2="673.3" y2="384" stroke="#000" stroke-width="2.5"/>
<line x1="678.5" y1="382.5" x2="679.5" y2="382.5" stroke="#000" stroke-width="2"/>
<line x1="682" y1="382.5" x2="686" y2="382.5" stroke="#000" stroke-width="2.5"/>
<line x1="681.5" y1="389" x2="685.5" y2="389.5" stroke="#000" stroke-width="4"/>
<line x1="617.5" y1="388.3" x2="624" y2="388.3" stroke="#000" stroke-width="5"/>
<line x1="626.5" y1="386" x2="627" y2="387" stroke="#000" stroke-width="2"/>
<line x1="640.5" y1="385" x2="639.5" y2="391.5" stroke="#000" stroke-width="2.5"/>
<line x1="628" y1="393.5" x2="634" y2="393.5" stroke="#000" stroke-width="4"/>
<line x1="636" y1="393.5" x2="638" y2="394" stroke="#000" stroke-width="2"/>
<line x1="647" y1="393" x2="648" y2="394.5" stroke="#000" stroke-width="2.5"/>
<line x1="655" y1="393.5" x2="656" y2="394" stroke="#000" stroke-width="2"/>
<line x1="667" y1="393" x2="669.5" y2="394" stroke="#000" stroke-width="2.5"/>
<line x1="689.5" y1="393" x2="695.5" y2="393.5" stroke="#000" stroke-width="3.3"/>
<rect x="710" y="388" width="7" height="7"/>
<rect x="722" y="387" width="6.5" height="6.5"/>
<rect x="738" y="387.5" width="6.5" height="6"/>
<line x1="748.3" y1="388" x2="748.3" y2="392" stroke="#000" stroke-width="2"/>
<line x1="752.5" y1="389.8" x2="758" y2="389.5" stroke="#000" stroke-width="4"/>
<line x1="760" y1="383.5" x2="760" y2="386.5" stroke="#000" stroke-width="2"/>
<line x1="745.8" y1="382" x2="745.8" y2="384.5" stroke="#000" stroke-width="2.5"/>
<line x1="766" y1="386.5" x2="773.5" y2="388.5" stroke="#000" stroke-width="5"/>
<line x1="861" y1="384.5" x2="867.5" y2="386" stroke="#000" stroke-width="5"/>
<line x1="875.5" y1="379" x2="875" y2="388.5" stroke="#000" stroke-width="4.5"/>
<line x1="884" y1="385" x2="899" y2="388.5" stroke="#000" stroke-width="7"/>
<line x1="58.3" y1="390" x2="59" y2="394" stroke="#000" stroke-width="3"/>
<line x1="55" y1="397.5" x2="60" y2="399" stroke="#000" stroke-width="2.5"/>
<line x1="33" y1="399" x2="32" y2="404.5" stroke="#000" stroke-width="4"/>
<line x1="39" y1="402" x2="40.5" y2="407" stroke="#000" stroke-width="4"/>
<line x1="50.5" y1="413" x2="54.5" y2="413" stroke="#000" stroke-width="4"/>
<line x1="48.8" y1="423" x2="52.8" y2="423" stroke="#000" stroke-width="4"/>
<line x1="26.5" y1="431" x2="26.5" y2="434" stroke="#000" stroke-width="2"/>
<line x1="46.8" y1="433.3" x2="51.6" y2="433.3" stroke="#000" stroke-width="5"/>
<line x1="56" y1="433" x2="57.5" y2="433.5" stroke="#000" stroke-width="1.5"/>
<line x1="50.5" y1="436" x2="57" y2="439" stroke="#000" stroke-width="2"/>
<line x1="55.5" y1="444" x2="53.5" y2="454.5" stroke="#000" stroke-width="3"/>
<line x1="33.5" y1="443.5" x2="32.5" y2="448" stroke="#000" stroke-width="3.5"/>
<line x1="22.5" y1="449" x2="26" y2="449.5" stroke="#000" stroke-width="2.5"/>
<line x1="25" y1="455" x2="30" y2="457" stroke="#000" stroke-width="4"/>
<line x1="43.5" y1="454.5" x2="43" y2="459" stroke="#000" stroke-width="3.5"/>
<line x1="47" y1="459" x2="52" y2="461" stroke="#000" stroke-width="2"/>
<line x1="53" y1="461" x2="54" y2="461.5" stroke="#000" stroke-width="1.5"/>
<line x1="26.5" y1="465.5" x2="25.8" y2="469.5" stroke="#000" stroke-width="2.5"/>
<line x1="41" y1="466" x2="40.5" y2="471" stroke="#000" stroke-width="4"/>
<line x1="49" y1="466" x2="48.3" y2="474" stroke="#000" stroke-width="3.5"/>
<line x1="39" y1="478" x2="38.5" y2="482" stroke="#000" stroke-width="4"/>
<line x1="47.8" y1="478.5" x2="46.5" y2="484.5" stroke="#000" stroke-width="3.5"/>
<line x1="47.5" y1="478" x2="50" y2="478.5" stroke="#000" stroke-width="2"/>
<line x1="14.5" y1="481" x2="16" y2="482" stroke="#000" stroke-width="2"/>
<line x1="8.5" y1="487" x2="13" y2="488.5" stroke="#000" stroke-width="2"/>
<line x1="18" y1="483.5" x2="17" y2="490" stroke="#000" stroke-width="4.5"/>
<polyline points="49.2,522.7 35.5,518.7 33.2,530" stroke-width="5.5" fill="none" stroke="#000" stroke-linejoin="miter"/>
<polyline points="32,535 28.8,547 39,553" stroke-width="5.5" fill="none" stroke="#000" stroke-linejoin="miter"/>
<polyline points="29.8,569.5 17.3,562.8 12,572.5" stroke-width="5.5" fill="none" stroke="#000" stroke-linejoin="miter"/>
<polyline points="8.7,578 2.7,586.6 15.2,593" stroke-width="5.5" fill="none" stroke="#000" stroke-linejoin="miter"/>
<line x1="68.5" y1="553" x2="42.2" y2="595.2" stroke="#000" stroke-width="6.5"/>
<line x1="48" y1="554.5" x2="68.5" y2="571.5" stroke="#000" stroke-width="6.5"/>
<line x1="34" y1="577.5" x2="60.5" y2="586.5" stroke="#000" stroke-width="6.5"/>
<polygon points="46,578 48,569 52,566 54,568 50,580"/>
<line x1="338" y1="396.5" x2="345" y2="396.5" stroke="#000" stroke-width="3"/>
<line x1="340" y1="397" x2="340" y2="403" stroke="#000" stroke-width="5"/>
<line x1="340.8" y1="406.5" x2="341" y2="412" stroke="#000" stroke-width="4"/>
<line x1="346" y1="411" x2="352.5" y2="409.5" stroke="#000" stroke-width="4.5"/>
<line x1="323" y1="410" x2="323.5" y2="415" stroke="#000" stroke-width="3.5"/>
<line x1="332" y1="410.8" x2="336.5" y2="410.5" stroke="#000" stroke-width="2.5"/>
<line x1="325.5" y1="417.5" x2="332" y2="417" stroke="#000" stroke-width="4"/>
<line x1="334" y1="416.7" x2="339" y2="416.3" stroke="#000" stroke-width="3"/>
<line x1="333.5" y1="427.5" x2="340" y2="427" stroke="#000" stroke-width="4"/>
<line x1="333.5" y1="437" x2="340" y2="435.5" stroke="#000" stroke-width="2.5"/>
<line x1="341.5" y1="432" x2="342" y2="437" stroke="#000" stroke-width="2.5"/>
<line x1="351" y1="433" x2="352" y2="446" stroke="#000" stroke-width="6"/>
<line x1="362" y1="397" x2="380" y2="394.5" stroke="#000" stroke-width="5"/>
<line x1="361.7" y1="399" x2="359.5" y2="416" stroke="#000" stroke-width="3.5"/>
<line x1="358.5" y1="415" x2="364" y2="415.5" stroke="#000" stroke-width="3"/>
<line x1="378.3" y1="397" x2="379.2" y2="410" stroke="#000" stroke-width="3.5"/>
<line x1="381.5" y1="411.7" x2="388.5" y2="411.7" stroke="#000" stroke-width="4"/>
<line x1="394" y1="397.5" x2="398" y2="397.5" stroke="#000" stroke-width="3"/>
<line x1="390" y1="404" x2="396" y2="403.5" stroke="#000" stroke-width="2.5"/>
<line x1="390.5" y1="404" x2="390.5" y2="408" stroke="#000" stroke-width="3"/>
<line x1="391" y1="410.8" x2="398.5" y2="410.8" stroke="#000" stroke-width="4"/>
<line x1="401.7" y1="406" x2="401.7" y2="412.5" stroke="#000" stroke-width="5"/>
<line x1="406" y1="410" x2="414" y2="410" stroke="#000" stroke-width="4"/>
<line x1="404.5" y1="396.5" x2="407" y2="396.5" stroke="#000" stroke-width="2.5"/>
<line x1="410" y1="398.5" x2="410.5" y2="402" stroke="#000" stroke-width="1.5"/>
<line x1="412.5" y1="391.5" x2="417.5" y2="391.5" stroke="#000" stroke-width="5"/>
<line x1="417.5" y1="394.5" x2="418.5" y2="402" stroke="#000" stroke-width="5"/>
<line x1="429" y1="392" x2="432.5" y2="396.5" stroke="#000" stroke-width="5.5"/>
<line x1="436.5" y1="400.3" x2="443.5" y2="400.3" stroke="#000" stroke-width="4"/>
<line x1="446.3" y1="399.7" x2="450.3" y2="399.7" stroke="#000" stroke-width="4"/>
<rect x="442" y="407.2" width="7.5" height="5"/>
<line x1="361" y1="424.2" x2="365.5" y2="424.2" stroke="#000" stroke-width="4"/>
<line x1="370" y1="423.3" x2="376.5" y2="423" stroke="#000" stroke-width="4"/>
<line x1="378" y1="422.5" x2="385.5" y2="422" stroke="#000" stroke-width="4"/>
<line x1="389" y1="421.3" x2="393" y2="421.3" stroke="#000" stroke-width="3"/>
<line x1="404.5" y1="419.2" x2="409" y2="419" stroke="#000" stroke-width="2.5"/>
<line x1="414" y1="417.5" x2="414.5" y2="422.5" stroke="#000" stroke-width="5"/>
<line x1="418.5" y1="425" x2="425" y2="426.5" stroke="#000" stroke-width="4"/>
<line x1="361.5" y1="433" x2="367" y2="432.5" stroke="#000" stroke-width="3"/>
<line x1="370" y1="433" x2="376" y2="432.5" stroke="#000" stroke-width="3.5"/>
<line x1="380" y1="431" x2="388.5" y2="430.5" stroke="#000" stroke-width="2.5"/>
<line x1="397" y1="428.5" x2="403.5" y2="427.8" stroke="#000" stroke-width="2.5"/>
<line x1="443" y1="433" x2="449" y2="433" stroke="#000" stroke-width="3.5"/>
<line x1="454" y1="431.5" x2="454.3" y2="437" stroke="#000" stroke-width="2.5"/>
<line x1="451.5" y1="446.7" x2="456" y2="446.7" stroke="#000" stroke-width="4"/>
<polygon points="534.7,393.5 556.6,394.2 561.1,390.3 568.9,390.3 568.2,395.5 561.1,396.8 560.5,405.8 550.2,405.2 549.5,402 536.6,401.3"/>
<line x1="477.3" y1="395.5" x2="477.3" y2="397.5" stroke="#000" stroke-width="2"/>
<line x1="506.3" y1="387" x2="506.3" y2="398.7" stroke="#000" stroke-width="2"/>
<line x1="508.5" y1="393.5" x2="513.5" y2="393.5" stroke="#000" stroke-width="5.5"/>
<line x1="524.8" y1="393" x2="524" y2="398" stroke="#000" stroke-width="3.5"/>
<line x1="530.2" y1="385.8" x2="530.8" y2="394.8" stroke="#000" stroke-width="2"/>
<line x1="534.2" y1="413" x2="534.2" y2="418.5" stroke="#000" stroke-width="2.5"/>
<polygon points="598.3,422.5 615.8,422.5 615.8,429.5 604.5,429.5 604.2,455.8 597,456 596.5,461.7 589.5,461.7 590,450.8 597.5,450.8 598,429"/>
<polygon points="623,438.3 645.8,438.3 645.8,452.5 644.2,452.5 644.2,457.5 623,457.5"/>
<rect x="662.5" y="434.2" width="5" height="14.2"/>
<rect x="666.7" y="437.5" width="12.5" height="3"/>
<rect x="676.5" y="438.3" width="2.7" height="16"/>
<rect x="668" y="451.7" width="11.2" height="3.5"/>
<line x1="667" y1="468.3" x2="672" y2="468.3" stroke="#000" stroke-width="3"/>
<line x1="661.7" y1="475" x2="678.3" y2="475.5" stroke="#000" stroke-width="2.5"/>
<line x1="675.8" y1="476" x2="675" y2="495" stroke="#000" stroke-width="4"/>
<line x1="695.5" y1="495.3" x2="699.5" y2="495.3" stroke="#000" stroke-width="4"/>
<line x1="704.7" y1="492" x2="704.7" y2="496.5" stroke="#000" stroke-width="2.5"/>
<line x1="719" y1="498" x2="724.5" y2="498.5" stroke="#000" stroke-width="4"/>
<line x1="742.2" y1="515" x2="742.2" y2="520.5" stroke="#000" stroke-width="3.5"/>
<line x1="630" y1="392" x2="640" y2="394.5" stroke="#000" stroke-width="4"/>
<line x1="647.5" y1="392" x2="649" y2="398" stroke="#000" stroke-width="5"/>
<line x1="654" y1="392" x2="656" y2="392.5" stroke="#000" stroke-width="1.5"/>
<line x1="667" y1="392.5" x2="668" y2="397.5" stroke="#000" stroke-width="4"/>
<line x1="662.5" y1="401.7" x2="667.5" y2="401.7" stroke="#000" stroke-width="3.5"/>
<line x1="674" y1="397" x2="672.5" y2="404.5" stroke="#000" stroke-width="4"/>
<line x1="690" y1="394.2" x2="695" y2="394.2" stroke="#000" stroke-width="2.5"/>
<line x1="689.5" y1="400" x2="697" y2="400.5" stroke="#000" stroke-width="3.5"/>
<line x1="680.5" y1="403" x2="685.5" y2="406" stroke="#000" stroke-width="4.5"/>
<rect x="710.5" y="389" width="6" height="6"/>
<rect x="722.5" y="389.5" width="5" height="4"/>
<line x1="729.7" y1="394.5" x2="729.7" y2="398.5" stroke="#000" stroke-width="2.5"/>
<line x1="738.5" y1="391.7" x2="745" y2="391.7" stroke="#000" stroke-width="3.5"/>
<line x1="751.5" y1="390.8" x2="758.5" y2="390.5" stroke="#000" stroke-width="3"/>
<line x1="766" y1="402" x2="770.7" y2="406.3" stroke="#000" stroke-width="5"/>
<line x1="630" y1="405" x2="629.2" y2="414.2" stroke="#000" stroke-width="2.5"/>
<line x1="629.5" y1="404.5" x2="633" y2="404.5" stroke="#000" stroke-width="2.5"/>
<line x1="632.5" y1="412.5" x2="636" y2="412.5" stroke="#000" stroke-width="3"/>
<line x1="638" y1="406" x2="643.5" y2="407.5" stroke="#000" stroke-width="3.3"/>
<line x1="646" y1="408.5" x2="657" y2="411" stroke="#000" stroke-width="5.5"/>
<line x1="644.5" y1="416" x2="645" y2="418.5" stroke="#000" stroke-width="2"/>
<line x1="648" y1="417.5" x2="656" y2="418" stroke="#000" stroke-width="3"/>
<line x1="654.2" y1="423.5" x2="654.2" y2="430" stroke="#000" stroke-width="4"/>
<line x1="653.5" y1="422" x2="655.5" y2="422" stroke="#000" stroke-width="2"/>
<line x1="664.2" y1="415" x2="664" y2="421.7" stroke="#000" stroke-width="2.5"/>
<line x1="667.5" y1="413.3" x2="673" y2="413.5" stroke="#000" stroke-width="3.5"/>
<line x1="676.5" y1="415.3" x2="682" y2="415.5" stroke="#000" stroke-width="3.5"/>
<line x1="663" y1="422.5" x2="665.5" y2="422.5" stroke="#000" stroke-width="2.5"/>
<line x1="674" y1="424.5" x2="679.5" y2="425.5" stroke="#000" stroke-width="1.5"/>
<line x1="688" y1="407" x2="695.5" y2="409.5" stroke="#000" stroke-width="4.5"/>
<line x1="698.5" y1="409" x2="705" y2="413" stroke="#000" stroke-width="5"/>
<line x1="707" y1="403" x2="708.5" y2="411.5" stroke="#000" stroke-width="3"/>
<line x1="715.5" y1="404.5" x2="715.5" y2="412" stroke="#000" stroke-width="2.5"/>
<line x1="707.5" y1="414.5" x2="714" y2="417.5" stroke="#000" stroke-width="4.5"/>
<line x1="725.3" y1="402.5" x2="725" y2="407.5" stroke="#000" stroke-width="3.3"/>
<line x1="690" y1="419" x2="696" y2="421.5" stroke="#000" stroke-width="3.5"/>
<line x1="701" y1="423.5" x2="705.5" y2="425" stroke="#000" stroke-width="3.5"/>
<line x1="689" y1="429" x2="695.5" y2="429.5" stroke="#000" stroke-width="1.5"/>
<line x1="697" y1="430.5" x2="698" y2="431.5" stroke="#000" stroke-width="1.5"/>
<line x1="715.5" y1="429.5" x2="721" y2="432" stroke="#000" stroke-width="3.5"/>
<line x1="714" y1="439.2" x2="721.5" y2="439.2" stroke="#000" stroke-width="3.5"/>
<line x1="740" y1="415" x2="739" y2="420" stroke="#000" stroke-width="3.5"/>
<line x1="750" y1="422.5" x2="750" y2="426" stroke="#000" stroke-width="3"/>
<line x1="734" y1="426.5" x2="740.5" y2="430" stroke="#000" stroke-width="4.5"/>
<line x1="741.5" y1="430" x2="745.5" y2="432" stroke="#000" stroke-width="3"/>
<line x1="755.8" y1="432" x2="755.5" y2="436" stroke="#000" stroke-width="3"/>
<line x1="733" y1="437" x2="738.5" y2="439.5" stroke="#000" stroke-width="3.5"/>
<line x1="730" y1="443.3" x2="728.3" y2="455" stroke="#000" stroke-width="2.5"/>
<line x1="745.5" y1="441.5" x2="750.5" y2="445" stroke="#000" stroke-width="3.5"/>
<line x1="752.5" y1="445" x2="756.5" y2="445" stroke="#000" stroke-width="3"/>
<line x1="742.5" y1="450.8" x2="746" y2="450.8" stroke="#000" stroke-width="1.5"/>
<line x1="753.3" y1="447.5" x2="752.5" y2="462.5" stroke="#000" stroke-width="2.5"/>
<line x1="764" y1="447.5" x2="769.5" y2="449" stroke="#000" stroke-width="5"/>
<line x1="773" y1="448" x2="774" y2="449" stroke="#000" stroke-width="2"/>
<line x1="762.5" y1="450.8" x2="761.7" y2="458.3" stroke="#000" stroke-width="3"/>
<line x1="771.7" y1="455" x2="771.7" y2="461.7" stroke="#000" stroke-width="2.5"/>
<rect x="779.7" y="391.5" width="6" height="13.5"/>
<line x1="780" y1="419.7" x2="786.7" y2="419.7" stroke="#000" stroke-width="6"/>
<line x1="808.3" y1="391.5" x2="808.3" y2="393.5" stroke="#000" stroke-width="2.5"/>
<line x1="807" y1="398.3" x2="810" y2="398.3" stroke="#000" stroke-width="1.5"/>
<line x1="816.7" y1="404.5" x2="816.7" y2="406.5" stroke="#000" stroke-width="2.5"/>
<line x1="831.5" y1="403" x2="833.5" y2="403" stroke="#000" stroke-width="2.5"/>
<line x1="826.5" y1="419.5" x2="827" y2="422" stroke="#000" stroke-width="2"/>
<line x1="830.5" y1="425" x2="831" y2="426.5" stroke="#000" stroke-width="2"/>
<line x1="795" y1="431" x2="795" y2="435.5" stroke="#000" stroke-width="4"/>
<line x1="801.8" y1="441.3" x2="807.6" y2="441.3" stroke="#000" stroke-width="5"/>
<line x1="811.8" y1="443" x2="817.6" y2="443.3" stroke="#000" stroke-width="4"/>
<line x1="823.5" y1="442" x2="822.5" y2="447.5" stroke="#000" stroke-width="2.5"/>
<rect x="828.5" y="433.3" width="4.5" height="10"/>
<line x1="830" y1="440" x2="834.5" y2="443" stroke="#000" stroke-width="4"/>
<line x1="838.3" y1="440" x2="838.8" y2="450" stroke="#000" stroke-width="3"/>
<line x1="841" y1="449" x2="849" y2="449.5" stroke="#000" stroke-width="3"/>
<line x1="850.5" y1="443" x2="859.5" y2="443.5" stroke="#000" stroke-width="3.5"/>
<line x1="850.5" y1="450.8" x2="858" y2="451" stroke="#000" stroke-width="4"/>
<line x1="868" y1="445" x2="876" y2="446.7" stroke="#000" stroke-width="2.5"/>
<line x1="867.5" y1="445" x2="867" y2="454.2" stroke="#000" stroke-width="3"/>
<line x1="868" y1="453.7" x2="875" y2="455" stroke="#000" stroke-width="2.5"/>
<line x1="876.5" y1="447.5" x2="883" y2="448.5" stroke="#000" stroke-width="2.5"/>
<line x1="877.5" y1="448" x2="877.5" y2="455" stroke="#000" stroke-width="2.5"/>
<line x1="879" y1="451.5" x2="884.5" y2="452" stroke="#000" stroke-width="2.5"/>
<line x1="881.5" y1="454.5" x2="882.5" y2="455.5" stroke="#000" stroke-width="2"/>
<line x1="888.5" y1="452.5" x2="888" y2="456.7" stroke="#000" stroke-width="2"/>
<line x1="891.7" y1="457.5" x2="898.3" y2="457.5" stroke="#000" stroke-width="3.3"/>
<rect x="895" y="432" width="5" height="10"/>
<line x1="893" y1="447.5" x2="899.5" y2="447.5" stroke="#000" stroke-width="1.8"/>
<line x1="904.5" y1="440" x2="904" y2="451.5" stroke="#000" stroke-width="4.5"/>
<line x1="920" y1="446" x2="923.5" y2="446" stroke="#000" stroke-width="4"/>
<line x1="915" y1="451.5" x2="916" y2="451.5" stroke="#000" stroke-width="1.5"/>
<line x1="908.8" y1="458.3" x2="914.6" y2="458.3" stroke="#000" stroke-width="4"/>
<line x1="924" y1="458" x2="924.5" y2="462.5" stroke="#000" stroke-width="2.5"/>
<line x1="776" y1="449" x2="777.5" y2="449.5" stroke="#000" stroke-width="3"/>
<line x1="795.3" y1="450" x2="794.8" y2="455" stroke="#000" stroke-width="3.3"/>
<line x1="801.3" y1="452.5" x2="807" y2="452.5" stroke="#000" stroke-width="3.3"/>
<line x1="789" y1="459.5" x2="793.5" y2="462.5" stroke="#000" stroke-width="3.5"/>
<polyline points="817,455 811.3,454.6 811.3,463.8 817.5,464.5" stroke-width="2.8" fill="none" stroke="#000" stroke-linejoin="miter"/>
<polyline points="825.3,456 819,455.6 819,464.2 825.6,465" stroke-width="2.8" fill="none" stroke="#000" stroke-linejoin="miter"/>
<line x1="831.7" y1="455.8" x2="845" y2="458.3" stroke="#000" stroke-width="3.5"/>
<line x1="832.5" y1="456.7" x2="831.7" y2="461.7" stroke="#000" stroke-width="3"/>
<line x1="839.2" y1="458.3" x2="839.2" y2="465" stroke="#000" stroke-width="2.5"/>
<line x1="848.3" y1="461.7" x2="850" y2="467.5" stroke="#000" stroke-width="2.5"/>
<line x1="851.5" y1="465.5" x2="858.5" y2="466" stroke="#000" stroke-width="3"/>
<line x1="861.7" y1="461.7" x2="861.7" y2="470" stroke="#000" stroke-width="2.5"/>
<line x1="865.8" y1="467" x2="865.8" y2="471" stroke="#000" stroke-width="2"/>
<line x1="869.5" y1="461.5" x2="877" y2="462.5" stroke="#000" stroke-width="3.3"/>
<line x1="878.2" y1="463.3" x2="885.2" y2="463.5" stroke="#000" stroke-width="3"/>
<line x1="886.7" y1="464.7" x2="893.3" y2="465" stroke="#000" stroke-width="3"/>
<line x1="896" y1="466.7" x2="900.8" y2="466.7" stroke="#000" stroke-width="4"/>
<line x1="868.5" y1="468.3" x2="875" y2="468.5" stroke="#000" stroke-width="2"/>
<line x1="877" y1="470.8" x2="883" y2="471" stroke="#000" stroke-width="1.8"/>
<line x1="887.5" y1="473.3" x2="892.5" y2="473.3" stroke="#000" stroke-width="1.5"/>
<line x1="895" y1="474.7" x2="900" y2="474.8" stroke="#000" stroke-width="1.5"/>
<line x1="910.8" y1="466.5" x2="910.8" y2="480" stroke="#000" stroke-width="3.5"/>
<line x1="910" y1="479.5" x2="915" y2="480.8" stroke="#000" stroke-width="2.5"/>
<line x1="926.7" y1="473" x2="920.8" y2="490.8" stroke="#000" stroke-width="7"/>
<line x1="917" y1="493" x2="923" y2="494.5" stroke="#000" stroke-width="5.5"/>
<line x1="908" y1="488.5" x2="915.5" y2="491.5" stroke="#000" stroke-width="2.5"/>
<line x1="916" y1="486" x2="919" y2="487.5" stroke="#000" stroke-width="2"/>
<line x1="893" y1="390.8" x2="899" y2="390.8" stroke="#000" stroke-width="2"/>
<line x1="922" y1="392.5" x2="929.5" y2="392.5" stroke="#000" stroke-width="1.8"/>
<line x1="893.8" y1="397.5" x2="897.8" y2="397.5" stroke="#000" stroke-width="4"/>
<line x1="916" y1="400" x2="917.5" y2="400" stroke="#000" stroke-width="2"/>
<line x1="921.7" y1="397" x2="922.5" y2="403.5" stroke="#000" stroke-width="2.5"/>
<line x1="923.8" y1="405.8" x2="927.8" y2="405.8" stroke="#000" stroke-width="4"/>
<line x1="874.5" y1="407.5" x2="880.5" y2="407.5" stroke="#000" stroke-width="3.3"/>
<line x1="873" y1="413.5" x2="874" y2="414" stroke="#000" stroke-width="2"/>
<line x1="885.5" y1="411" x2="894.5" y2="414.5" stroke="#000" stroke-width="5.5"/>
<line x1="900" y1="415.8" x2="905" y2="415.8" stroke="#000" stroke-width="5"/>
<line x1="925" y1="418.3" x2="928.5" y2="418.3" stroke="#000" stroke-width="3"/>
<line x1="800" y1="495.5" x2="801" y2="502.5" stroke="#000" stroke-width="4"/>
<line x1="796.5" y1="513.8" x2="802" y2="513.8" stroke="#000" stroke-width="4"/>
<line x1="792" y1="525.5" x2="801" y2="526" stroke="#000" stroke-width="3.3"/>
<line x1="807" y1="527.5" x2="810" y2="528.5" stroke="#000" stroke-width="2.5"/>
<line x1="825.8" y1="521.5" x2="825.8" y2="530" stroke="#000" stroke-width="3"/>
<line x1="825.8" y1="522" x2="832.5" y2="522.5" stroke="#000" stroke-width="2.5"/>
<line x1="835" y1="523.5" x2="835" y2="530" stroke="#000" stroke-width="2"/>
<line x1="840.5" y1="523.5" x2="841" y2="530" stroke="#000" stroke-width="2"/>
<line x1="889.2" y1="503" x2="891.5" y2="503" stroke="#000" stroke-width="1.5"/>
<line x1="911" y1="506.5" x2="915.5" y2="509" stroke="#000" stroke-width="4"/>
<line x1="880" y1="511" x2="879.5" y2="514" stroke="#000" stroke-width="2.5"/>
<line x1="873" y1="515.3" x2="877" y2="515" stroke="#000" stroke-width="1.8"/>
<line x1="890" y1="510.5" x2="901.7" y2="509.5" stroke="#000" stroke-width="2.2"/>
<line x1="891" y1="512" x2="890.5" y2="516" stroke="#000" stroke-width="2"/>
<line x1="895" y1="519" x2="901.5" y2="517.5" stroke="#000" stroke-width="4"/>
<line x1="890.5" y1="520.5" x2="894.5" y2="520" stroke="#000" stroke-width="4.5"/>
<line x1="884.5" y1="517.5" x2="883.5" y2="522.5" stroke="#000" stroke-width="5"/>
<line x1="871" y1="524.5" x2="877.5" y2="522" stroke="#000" stroke-width="3.3"/>
<line x1="864.5" y1="525" x2="869" y2="525" stroke="#000" stroke-width="3.8"/>
<line x1="745" y1="547" x2="749.5" y2="551" stroke="#000" stroke-width="5"/>
<line x1="764" y1="555.5" x2="769.5" y2="555.5" stroke="#000" stroke-width="2.8"/>
<line x1="754.7" y1="565.2" x2="771.9" y2="567.3" stroke="#000" stroke-width="1.8"/>
<line x1="763" y1="570" x2="768" y2="569.5" stroke="#000" stroke-width="3.5"/>
<line x1="792" y1="526" x2="800" y2="527" stroke="#000" stroke-width="3"/>
<line x1="805" y1="529.5" x2="810" y2="530" stroke="#000" stroke-width="4.5"/>
<line x1="816" y1="535" x2="820.5" y2="535" stroke="#000" stroke-width="4"/>
<line x1="803.3" y1="537.2" x2="807.3" y2="537.2" stroke="#000" stroke-width="3.5"/>
<line x1="793.5" y1="539" x2="799" y2="539" stroke="#000" stroke-width="3.5"/>
<line x1="825.7" y1="521" x2="825.7" y2="531.8" stroke="#000" stroke-width="2.5"/>
<line x1="825.7" y1="531.8" x2="839.7" y2="532.9" stroke="#000" stroke-width="2.5"/>
<line x1="835.4" y1="522.2" x2="834.3" y2="530.8" stroke="#000" stroke-width="2"/>
<line x1="841.8" y1="523.2" x2="841.8" y2="530.8" stroke="#000" stroke-width="1.5"/>
<line x1="838" y1="523" x2="842" y2="523.2" stroke="#000" stroke-width="1.5"/>
<line x1="863" y1="524.3" x2="868" y2="524.3" stroke="#000" stroke-width="3.5"/>
<line x1="870" y1="523.5" x2="878" y2="522.5" stroke="#000" stroke-width="3.5"/>
<line x1="881.5" y1="521.5" x2="887.5" y2="520" stroke="#000" stroke-width="3"/>
<line x1="847" y1="541.5" x2="852" y2="540.5" stroke="#000" stroke-width="3"/>
<line x1="853.5" y1="539.5" x2="860" y2="538.8" stroke="#000" stroke-width="3"/>
<line x1="861.5" y1="538" x2="869.5" y2="537" stroke="#000" stroke-width="3.3"/>
<line x1="870.5" y1="536.5" x2="878" y2="535.5" stroke="#000" stroke-width="3.8"/>
<line x1="878" y1="535.5" x2="885" y2="534.5" stroke="#000" stroke-width="3.8"/>
<line x1="884.5" y1="534.5" x2="893.5" y2="533.5" stroke="#000" stroke-width="4.5"/>
<line x1="899.5" y1="531.5" x2="899" y2="535.5" stroke="#000" stroke-width="2"/>
<line x1="904" y1="531.8" x2="906.8" y2="531.8" stroke="#000" stroke-width="5"/>
<line x1="869.5" y1="544.7" x2="874.5" y2="544.7" stroke="#000" stroke-width="2.5"/>
<line x1="887" y1="540.4" x2="893.5" y2="540.4" stroke="#000" stroke-width="2"/>
<line x1="820.5" y1="545.2" x2="826.5" y2="544.3" stroke="#000" stroke-width="3.5"/>
<line x1="810.5" y1="547.5" x2="815" y2="547.5" stroke="#000" stroke-width="3"/>
<line x1="796" y1="550" x2="803.8" y2="549" stroke="#000" stroke-width="3"/>
<line x1="811.5" y1="554.4" x2="816.5" y2="554.4" stroke="#000" stroke-width="3.5"/>
<line x1="785" y1="551.5" x2="791" y2="554.5" stroke="#000" stroke-width="6.5"/>
<line x1="794.5" y1="556" x2="793.3" y2="567.5" stroke="#000" stroke-width="5"/>
<line x1="832.5" y1="543" x2="831.5" y2="553" stroke="#000" stroke-width="3.5"/>
<line x1="836" y1="542.5" x2="836" y2="545" stroke="#000" stroke-width="1.5"/>
<line x1="846" y1="548" x2="852.6" y2="548.5" stroke="#000" stroke-width="2"/>
<line x1="850" y1="549.5" x2="852.6" y2="551.5" stroke="#000" stroke-width="2.5"/>
<line x1="837.5" y1="556.8" x2="842" y2="556.3" stroke="#000" stroke-width="3.5"/>
<line x1="830" y1="563" x2="837.5" y2="563.5" stroke="#000" stroke-width="4.5"/>
<line x1="901.8" y1="549" x2="901.4" y2="555.5" stroke="#000" stroke-width="3"/>
<line x1="902" y1="562" x2="902" y2="568.5" stroke="#000" stroke-width="3"/>
<line x1="917" y1="541" x2="926" y2="541" stroke="#000" stroke-width="3.5"/>
<line x1="917" y1="550.5" x2="926" y2="549.8" stroke="#000" stroke-width="3.5"/>
<line x1="916.5" y1="561.5" x2="916" y2="571" stroke="#000" stroke-width="5.5"/>
<rect x="921.5" y="561" width="8.5" height="6"/>
<line x1="897.5" y1="581.9" x2="904.5" y2="581.9" stroke="#000" stroke-width="4"/>
<line x1="895.2" y1="586" x2="895.2" y2="589.5" stroke="#000" stroke-width="3.5"/>
<line x1="904.2" y1="592" x2="904.2" y2="598.5" stroke="#000" stroke-width="3.5"/>
<line x1="903.5" y1="600.5" x2="904.5" y2="607" stroke="#000" stroke-width="4.5"/>
<line x1="906" y1="609" x2="906.5" y2="616" stroke="#000" stroke-width="4.5"/>
<line x1="896.5" y1="612.5" x2="898.5" y2="615.5" stroke="#000" stroke-width="4"/>
<line x1="900.5" y1="625.4" x2="910" y2="625.4" stroke="#000" stroke-width="3.8"/>
<line x1="906.8" y1="633.5" x2="906.8" y2="638.8" stroke="#000" stroke-width="3.5"/>
<line x1="898.5" y1="642" x2="899.5" y2="649.5" stroke="#000" stroke-width="5.5"/>
<line x1="895" y1="652.3" x2="900" y2="652.3" stroke="#000" stroke-width="3.5"/>
<line x1="903" y1="649.5" x2="903.3" y2="653" stroke="#000" stroke-width="2.8"/>
<line x1="918" y1="595.3" x2="920.5" y2="595.3" stroke="#000" stroke-width="3"/>
<line x1="919.5" y1="601.5" x2="921" y2="608.5" stroke="#000" stroke-width="3.5"/>
<line x1="922" y1="612.5" x2="922.5" y2="617.5" stroke="#000" stroke-width="2"/>
<line x1="921.4" y1="612.5" x2="927.8" y2="612" stroke="#000" stroke-width="1.8"/>
<line x1="922.5" y1="619" x2="924" y2="627.5" stroke="#000" stroke-width="3.5"/>
<line x1="925" y1="634" x2="927" y2="642.5" stroke="#000" stroke-width="4.5"/>
<line x1="793" y1="605.5" x2="796" y2="605.5" stroke="#000" stroke-width="1.5"/>
<line x1="795.5" y1="605.5" x2="795.5" y2="609" stroke="#000" stroke-width="1.8"/>
<rect x="871.4" y="704.8" width="17" height="7.8"/>
<line x1="888.6" y1="697" x2="888.6" y2="700.5" stroke="#000" stroke-width="3"/>
<line x1="888.5" y1="699.5" x2="896" y2="700.5" stroke="#000" stroke-width="2.5"/>
<line x1="901" y1="702.4" x2="905.5" y2="702.4" stroke="#000" stroke-width="2.8"/>
<line x1="911.9" y1="695.5" x2="912" y2="698.5" stroke="#000" stroke-width="2"/>
<line x1="914.6" y1="707" x2="914.8" y2="711.5" stroke="#000" stroke-width="3.5"/>
<line x1="907.5" y1="726.5" x2="912" y2="727" stroke="#000" stroke-width="4.5"/>
<line x1="913" y1="731" x2="914.7" y2="744" stroke="#000" stroke-width="4.5"/>
<line x1="910.5" y1="751.5" x2="911.5" y2="760" stroke="#000" stroke-width="2.5"/>
<line x1="916" y1="755" x2="921" y2="755" stroke="#000" stroke-width="4"/>
<line x1="921" y1="779" x2="921.3" y2="785.5" stroke="#000" stroke-width="5.5"/>
<line x1="921.8" y1="790" x2="922.2" y2="796.5" stroke="#000" stroke-width="6"/>
</g></svg></body></html>
